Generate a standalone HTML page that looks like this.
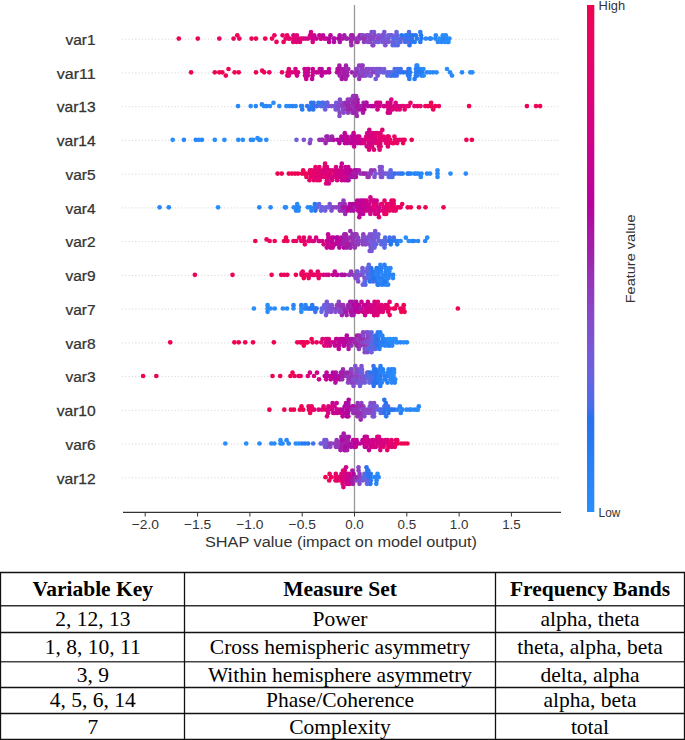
<!DOCTYPE html><html><head><meta charset="utf-8"><style>html,body{margin:0;padding:0;background:#fff;overflow:hidden}svg{display:block;}</style></head><body>
<svg width="685" height="740" viewBox="0 0 685 740">
<defs><linearGradient id="cb" x1="0" y1="0" x2="0" y2="1"><stop offset="0.000" stop-color="rgb(237, 3, 81)"/><stop offset="0.000" stop-color="rgb(237, 3, 81)"/><stop offset="0.030" stop-color="rgb(237, 3, 88)"/><stop offset="0.061" stop-color="rgb(235, 3, 95)"/><stop offset="0.091" stop-color="rgb(233, 3, 101)"/><stop offset="0.121" stop-color="rgb(229, 3, 108)"/><stop offset="0.152" stop-color="rgb(225, 3, 114)"/><stop offset="0.182" stop-color="rgb(221, 3, 120)"/><stop offset="0.212" stop-color="rgb(217, 3, 126)"/><stop offset="0.242" stop-color="rgb(212, 3, 132)"/><stop offset="0.273" stop-color="rgb(207, 3, 138)"/><stop offset="0.303" stop-color="rgb(201, 3, 144)"/><stop offset="0.333" stop-color="rgb(195, 3, 149)"/><stop offset="0.364" stop-color="rgb(189, 3, 154)"/><stop offset="0.394" stop-color="rgb(182, 3, 159)"/><stop offset="0.424" stop-color="rgb(174, 13, 163)"/><stop offset="0.455" stop-color="rgb(167, 26, 167)"/><stop offset="0.485" stop-color="rgb(159, 34, 171)"/><stop offset="0.515" stop-color="rgb(153, 44, 177)"/><stop offset="0.545" stop-color="rgb(149, 54, 185)"/><stop offset="0.576" stop-color="rgb(143, 63, 192)"/><stop offset="0.606" stop-color="rgb(137, 71, 199)"/><stop offset="0.636" stop-color="rgb(130, 79, 206)"/><stop offset="0.667" stop-color="rgb(123, 85, 212)"/><stop offset="0.697" stop-color="rgb(115, 92, 218)"/><stop offset="0.727" stop-color="rgb(105, 98, 223)"/><stop offset="0.758" stop-color="rgb(92, 103, 228)"/><stop offset="0.788" stop-color="rgb(76, 109, 233)"/><stop offset="0.818" stop-color="rgb(39, 114, 237)"/><stop offset="0.848" stop-color="rgb(40, 119, 240)"/><stop offset="0.879" stop-color="rgb(40, 124, 243)"/><stop offset="0.909" stop-color="rgb(41, 129, 246)"/><stop offset="0.939" stop-color="rgb(41, 133, 248)"/><stop offset="0.970" stop-color="rgb(41, 137, 250)"/><stop offset="1.000" stop-color="rgb(41, 142, 251)"/></linearGradient></defs>
<line x1="122" y1="39.2" x2="561" y2="39.2" stroke="#cccccc" stroke-width="0.8" stroke-dasharray="1.1,2.2"/>
<line x1="122" y1="72.9" x2="561" y2="72.9" stroke="#cccccc" stroke-width="0.8" stroke-dasharray="1.1,2.2"/>
<line x1="122" y1="106.7" x2="561" y2="106.7" stroke="#cccccc" stroke-width="0.8" stroke-dasharray="1.1,2.2"/>
<line x1="122" y1="140.4" x2="561" y2="140.4" stroke="#cccccc" stroke-width="0.8" stroke-dasharray="1.1,2.2"/>
<line x1="122" y1="174.2" x2="561" y2="174.2" stroke="#cccccc" stroke-width="0.8" stroke-dasharray="1.1,2.2"/>
<line x1="122" y1="207.9" x2="561" y2="207.9" stroke="#cccccc" stroke-width="0.8" stroke-dasharray="1.1,2.2"/>
<line x1="122" y1="241.6" x2="561" y2="241.6" stroke="#cccccc" stroke-width="0.8" stroke-dasharray="1.1,2.2"/>
<line x1="122" y1="275.4" x2="561" y2="275.4" stroke="#cccccc" stroke-width="0.8" stroke-dasharray="1.1,2.2"/>
<line x1="122" y1="309.1" x2="561" y2="309.1" stroke="#cccccc" stroke-width="0.8" stroke-dasharray="1.1,2.2"/>
<line x1="122" y1="342.9" x2="561" y2="342.9" stroke="#cccccc" stroke-width="0.8" stroke-dasharray="1.1,2.2"/>
<line x1="122" y1="376.6" x2="561" y2="376.6" stroke="#cccccc" stroke-width="0.8" stroke-dasharray="1.1,2.2"/>
<line x1="122" y1="410.3" x2="561" y2="410.3" stroke="#cccccc" stroke-width="0.8" stroke-dasharray="1.1,2.2"/>
<line x1="122" y1="444.1" x2="561" y2="444.1" stroke="#cccccc" stroke-width="0.8" stroke-dasharray="1.1,2.2"/>
<line x1="122" y1="477.8" x2="561" y2="477.8" stroke="#cccccc" stroke-width="0.8" stroke-dasharray="1.1,2.2"/>
<line x1="354.5" y1="5" x2="354.5" y2="512" stroke="#999" stroke-width="1.3"/>
<g>
<circle cx="435.3" cy="38.6" r="2.35" fill="rgb(41, 136, 249)"/>
<circle cx="353.6" cy="38.6" r="2.35" fill="rgb(155, 39, 173)"/>
<circle cx="237.3" cy="35.3" r="2.35" fill="rgb(237, 3, 82)"/>
<circle cx="370.5" cy="35.3" r="2.35" fill="rgb(135, 74, 201)"/>
<circle cx="288.6" cy="38.6" r="2.35" fill="rgb(230, 3, 106)"/>
<circle cx="382.2" cy="41.9" r="2.35" fill="rgb(121, 87, 214)"/>
<circle cx="400.6" cy="41.9" r="2.35" fill="rgb(95, 102, 227)"/>
<circle cx="384.3" cy="32.0" r="2.35" fill="rgb(122, 86, 213)"/>
<circle cx="356.6" cy="41.9" r="2.35" fill="rgb(149, 54, 185)"/>
<circle cx="368.5" cy="35.3" r="2.35" fill="rgb(134, 75, 202)"/>
<circle cx="357.6" cy="41.9" r="2.35" fill="rgb(160, 34, 171)"/>
<circle cx="360.0" cy="38.6" r="2.35" fill="rgb(147, 56, 186)"/>
<circle cx="326.1" cy="38.6" r="2.35" fill="rgb(195, 3, 150)"/>
<circle cx="373.2" cy="45.2" r="2.35" fill="rgb(135, 74, 201)"/>
<circle cx="314.2" cy="35.3" r="2.35" fill="rgb(203, 3, 142)"/>
<circle cx="350.8" cy="38.6" r="2.35" fill="rgb(152, 46, 178)"/>
<circle cx="405.2" cy="41.9" r="2.35" fill="rgb(69, 111, 234)"/>
<circle cx="339.7" cy="35.3" r="2.35" fill="rgb(173, 16, 164)"/>
<circle cx="388.5" cy="38.6" r="2.35" fill="rgb(117, 90, 216)"/>
<circle cx="374.9" cy="41.9" r="2.35" fill="rgb(121, 87, 214)"/>
<circle cx="319.4" cy="35.3" r="2.35" fill="rgb(195, 3, 149)"/>
<circle cx="356.9" cy="38.6" r="2.35" fill="rgb(150, 51, 182)"/>
<circle cx="334.3" cy="38.6" r="2.35" fill="rgb(189, 3, 154)"/>
<circle cx="405.6" cy="35.3" r="2.35" fill="rgb(40, 123, 243)"/>
<circle cx="409.5" cy="45.2" r="2.35" fill="rgb(47, 113, 236)"/>
<circle cx="381.3" cy="38.6" r="2.35" fill="rgb(118, 90, 216)"/>
<circle cx="393.0" cy="41.9" r="2.35" fill="rgb(108, 96, 221)"/>
<circle cx="411.4" cy="41.9" r="2.35" fill="rgb(40, 120, 240)"/>
<circle cx="338.3" cy="38.6" r="2.35" fill="rgb(175, 10, 163)"/>
<circle cx="421.0" cy="35.3" r="2.35" fill="rgb(39, 118, 239)"/>
<circle cx="397.7" cy="38.6" r="2.35" fill="rgb(98, 102, 227)"/>
<circle cx="396.5" cy="32.0" r="2.35" fill="rgb(102, 100, 225)"/>
<circle cx="373.0" cy="38.6" r="2.35" fill="rgb(135, 74, 201)"/>
<circle cx="303.2" cy="38.6" r="2.35" fill="rgb(212, 3, 132)"/>
<circle cx="429.9" cy="38.6" r="2.35" fill="rgb(41, 129, 246)"/>
<circle cx="357.6" cy="38.6" r="2.35" fill="rgb(150, 53, 184)"/>
<circle cx="366.4" cy="35.3" r="2.35" fill="rgb(135, 73, 200)"/>
<circle cx="415.8" cy="35.3" r="2.35" fill="rgb(40, 121, 241)"/>
<circle cx="344.3" cy="35.3" r="2.35" fill="rgb(163, 31, 170)"/>
<circle cx="372.7" cy="45.2" r="2.35" fill="rgb(138, 71, 199)"/>
<circle cx="351.2" cy="35.3" r="2.35" fill="rgb(155, 39, 173)"/>
<circle cx="384.1" cy="38.6" r="2.35" fill="rgb(113, 93, 219)"/>
<circle cx="447.3" cy="41.9" r="2.35" fill="rgb(41, 132, 247)"/>
<circle cx="444.1" cy="38.6" r="2.35" fill="rgb(41, 133, 248)"/>
<circle cx="312.7" cy="41.9" r="2.35" fill="rgb(213, 3, 130)"/>
<circle cx="293.2" cy="41.9" r="2.35" fill="rgb(227, 3, 112)"/>
<circle cx="330.5" cy="35.3" r="2.35" fill="rgb(182, 3, 159)"/>
<circle cx="384.0" cy="35.3" r="2.35" fill="rgb(115, 92, 218)"/>
<circle cx="328.9" cy="38.6" r="2.35" fill="rgb(183, 3, 158)"/>
<circle cx="352.4" cy="35.3" r="2.35" fill="rgb(161, 33, 170)"/>
<circle cx="283.6" cy="41.9" r="2.35" fill="rgb(235, 3, 96)"/>
<circle cx="276.5" cy="41.9" r="2.35" fill="rgb(235, 3, 98)"/>
<circle cx="417.0" cy="38.6" r="2.35" fill="rgb(40, 122, 242)"/>
<circle cx="233.6" cy="38.6" r="2.35" fill="rgb(235, 3, 95)"/>
<circle cx="412.0" cy="38.6" r="2.35" fill="rgb(39, 118, 239)"/>
<circle cx="320.8" cy="38.6" r="2.35" fill="rgb(189, 3, 154)"/>
<circle cx="333.5" cy="38.6" r="2.35" fill="rgb(170, 21, 166)"/>
<circle cx="437.9" cy="41.9" r="2.35" fill="rgb(41, 135, 248)"/>
<circle cx="386.5" cy="41.9" r="2.35" fill="rgb(114, 93, 219)"/>
<circle cx="378.6" cy="35.3" r="2.35" fill="rgb(112, 94, 220)"/>
<circle cx="351.1" cy="41.9" r="2.35" fill="rgb(161, 32, 170)"/>
<circle cx="359.8" cy="35.3" r="2.35" fill="rgb(159, 34, 171)"/>
<circle cx="293.5" cy="35.3" r="2.35" fill="rgb(218, 3, 125)"/>
<circle cx="408.2" cy="41.9" r="2.35" fill="rgb(89, 104, 229)"/>
<circle cx="435.8" cy="35.3" r="2.35" fill="rgb(41, 137, 250)"/>
<circle cx="334.0" cy="41.9" r="2.35" fill="rgb(174, 12, 163)"/>
<circle cx="272.0" cy="38.6" r="2.35" fill="rgb(237, 3, 89)"/>
<circle cx="393.3" cy="38.6" r="2.35" fill="rgb(84, 106, 231)"/>
<circle cx="265.2" cy="38.6" r="2.35" fill="rgb(237, 3, 81)"/>
<circle cx="447.1" cy="38.6" r="2.35" fill="rgb(41, 136, 249)"/>
<circle cx="239.3" cy="38.6" r="2.35" fill="rgb(237, 3, 90)"/>
<circle cx="390.5" cy="35.3" r="2.35" fill="rgb(106, 98, 223)"/>
<circle cx="378.4" cy="41.9" r="2.35" fill="rgb(113, 93, 219)"/>
<circle cx="351.4" cy="45.2" r="2.35" fill="rgb(154, 42, 176)"/>
<circle cx="382.2" cy="35.3" r="2.35" fill="rgb(128, 81, 208)"/>
<circle cx="282.6" cy="35.3" r="2.35" fill="rgb(230, 3, 105)"/>
<circle cx="444.9" cy="41.9" r="2.35" fill="rgb(41, 139, 250)"/>
<circle cx="449.4" cy="38.6" r="2.35" fill="rgb(41, 138, 250)"/>
<circle cx="385.3" cy="45.2" r="2.35" fill="rgb(125, 84, 211)"/>
<circle cx="385.1" cy="41.9" r="2.35" fill="rgb(127, 82, 209)"/>
<circle cx="316.5" cy="38.6" r="2.35" fill="rgb(200, 3, 144)"/>
<circle cx="395.2" cy="45.2" r="2.35" fill="rgb(90, 104, 229)"/>
<circle cx="394.0" cy="41.9" r="2.35" fill="rgb(107, 97, 222)"/>
<circle cx="397.7" cy="45.2" r="2.35" fill="rgb(88, 105, 230)"/>
<circle cx="404.2" cy="38.6" r="2.35" fill="rgb(60, 112, 235)"/>
<circle cx="301.3" cy="38.6" r="2.35" fill="rgb(223, 3, 118)"/>
<circle cx="362.6" cy="35.3" r="2.35" fill="rgb(153, 44, 177)"/>
<circle cx="311.0" cy="32.0" r="2.35" fill="rgb(210, 3, 134)"/>
<circle cx="365.3" cy="38.6" r="2.35" fill="rgb(141, 67, 195)"/>
<circle cx="324.2" cy="38.6" r="2.35" fill="rgb(195, 3, 150)"/>
<circle cx="362.1" cy="35.3" r="2.35" fill="rgb(134, 75, 202)"/>
<circle cx="407.0" cy="38.6" r="2.35" fill="rgb(51, 113, 236)"/>
<circle cx="377.5" cy="41.9" r="2.35" fill="rgb(118, 89, 215)"/>
<circle cx="400.9" cy="38.6" r="2.35" fill="rgb(113, 93, 219)"/>
<circle cx="178.8" cy="38.6" r="2.35" fill="rgb(237, 3, 81)"/>
<circle cx="339.8" cy="41.9" r="2.35" fill="rgb(172, 18, 165)"/>
<circle cx="285.7" cy="38.6" r="2.35" fill="rgb(231, 3, 103)"/>
<circle cx="219.3" cy="38.6" r="2.35" fill="rgb(233, 3, 101)"/>
<circle cx="380.1" cy="38.6" r="2.35" fill="rgb(129, 81, 208)"/>
<circle cx="289.8" cy="38.6" r="2.35" fill="rgb(233, 3, 101)"/>
<circle cx="367.9" cy="41.9" r="2.35" fill="rgb(134, 75, 202)"/>
<circle cx="339.6" cy="38.6" r="2.35" fill="rgb(176, 9, 162)"/>
<circle cx="308.0" cy="38.6" r="2.35" fill="rgb(215, 3, 128)"/>
<circle cx="401.7" cy="35.3" r="2.35" fill="rgb(39, 116, 238)"/>
<circle cx="298.8" cy="38.6" r="2.35" fill="rgb(223, 3, 117)"/>
<circle cx="421.5" cy="38.6" r="2.35" fill="rgb(40, 119, 240)"/>
<circle cx="413.0" cy="35.3" r="2.35" fill="rgb(39, 118, 239)"/>
<circle cx="397.4" cy="35.3" r="2.35" fill="rgb(93, 103, 228)"/>
<circle cx="391.8" cy="35.3" r="2.35" fill="rgb(114, 93, 219)"/>
<circle cx="374.0" cy="32.0" r="2.35" fill="rgb(120, 88, 215)"/>
<circle cx="364.0" cy="41.9" r="2.35" fill="rgb(144, 62, 191)"/>
<circle cx="363.7" cy="38.6" r="2.35" fill="rgb(150, 53, 184)"/>
<circle cx="371.7" cy="32.0" r="2.35" fill="rgb(126, 83, 210)"/>
<circle cx="420.3" cy="41.9" r="2.35" fill="rgb(40, 120, 241)"/>
<circle cx="410.5" cy="35.3" r="2.35" fill="rgb(40, 119, 240)"/>
<circle cx="293.8" cy="38.6" r="2.35" fill="rgb(214, 3, 129)"/>
<circle cx="403.7" cy="38.6" r="2.35" fill="rgb(70, 110, 234)"/>
<circle cx="392.7" cy="45.2" r="2.35" fill="rgb(92, 103, 228)"/>
<circle cx="197.8" cy="38.6" r="2.35" fill="rgb(237, 3, 81)"/>
<circle cx="442.8" cy="35.3" r="2.35" fill="rgb(41, 142, 251)"/>
<circle cx="287.1" cy="35.3" r="2.35" fill="rgb(234, 3, 98)"/>
<circle cx="256.0" cy="38.6" r="2.35" fill="rgb(236, 3, 91)"/>
<circle cx="370.4" cy="41.9" r="2.35" fill="rgb(138, 70, 198)"/>
<circle cx="445.8" cy="35.3" r="2.35" fill="rgb(41, 140, 250)"/>
<circle cx="296.5" cy="41.9" r="2.35" fill="rgb(220, 3, 121)"/>
<circle cx="442.7" cy="38.6" r="2.35" fill="rgb(41, 132, 247)"/>
<circle cx="369.3" cy="38.6" r="2.35" fill="rgb(138, 70, 198)"/>
<circle cx="312.2" cy="38.6" r="2.35" fill="rgb(206, 3, 139)"/>
<circle cx="425.9" cy="38.6" r="2.35" fill="rgb(41, 135, 248)"/>
<circle cx="395.9" cy="35.3" r="2.35" fill="rgb(111, 95, 220)"/>
<circle cx="329.1" cy="41.9" r="2.35" fill="rgb(190, 3, 153)"/>
<circle cx="347.4" cy="38.6" r="2.35" fill="rgb(158, 35, 171)"/>
<circle cx="441.3" cy="41.9" r="2.35" fill="rgb(41, 136, 249)"/>
<circle cx="448.5" cy="41.9" r="2.35" fill="rgb(41, 142, 251)"/>
<circle cx="414.7" cy="41.9" r="2.35" fill="rgb(40, 125, 244)"/>
<circle cx="310.1" cy="35.3" r="2.35" fill="rgb(206, 3, 139)"/>
<circle cx="296.8" cy="35.3" r="2.35" fill="rgb(223, 3, 118)"/>
<circle cx="342.5" cy="38.6" r="2.35" fill="rgb(170, 22, 166)"/>
<circle cx="430.9" cy="38.6" r="2.35" fill="rgb(41, 135, 248)"/>
<circle cx="295.2" cy="38.6" r="2.35" fill="rgb(225, 3, 114)"/>
<circle cx="310.9" cy="35.3" r="2.35" fill="rgb(213, 3, 131)"/>
<circle cx="251.6" cy="38.6" r="2.35" fill="rgb(237, 3, 85)"/>
<circle cx="377.3" cy="38.6" r="2.35" fill="rgb(134, 75, 202)"/>
<circle cx="398.2" cy="41.9" r="2.35" fill="rgb(88, 105, 230)"/>
<circle cx="346.1" cy="38.6" r="2.35" fill="rgb(162, 32, 170)"/>
<circle cx="372.6" cy="38.6" r="2.35" fill="rgb(136, 72, 200)"/>
<circle cx="420.3" cy="32.0" r="2.35" fill="rgb(40, 125, 244)"/>
<circle cx="387.1" cy="38.6" r="2.35" fill="rgb(121, 87, 214)"/>
<circle cx="407.7" cy="35.3" r="2.35" fill="rgb(40, 120, 241)"/>
<circle cx="320.9" cy="38.6" r="2.35" fill="rgb(205, 3, 140)"/>
<circle cx="323.0" cy="35.3" r="2.35" fill="rgb(188, 3, 154)"/>
<circle cx="388.3" cy="35.3" r="2.35" fill="rgb(110, 95, 220)"/>
<circle cx="439.4" cy="38.6" r="2.35" fill="rgb(41, 142, 251)"/>
<circle cx="300.0" cy="41.9" r="2.35" fill="rgb(221, 3, 120)"/>
<circle cx="388.8" cy="41.9" r="2.35" fill="rgb(122, 86, 213)"/>
<circle cx="374.6" cy="35.3" r="2.35" fill="rgb(137, 71, 199)"/>
<circle cx="409.5" cy="38.6" r="2.35" fill="rgb(63, 111, 234)"/>
<circle cx="394.6" cy="38.6" r="2.35" fill="rgb(78, 108, 232)"/>
<circle cx="305.5" cy="38.6" r="2.35" fill="rgb(210, 3, 134)"/>
<circle cx="313.9" cy="38.6" r="2.35" fill="rgb(204, 3, 141)"/>
<circle cx="274.4" cy="35.3" r="2.35" fill="rgb(235, 3, 94)"/>
<circle cx="409.0" cy="32.0" r="2.35" fill="rgb(74, 109, 233)"/>
<circle cx="392.1" cy="72.3" r="2.35" fill="rgb(101, 100, 225)"/>
<circle cx="375.3" cy="72.3" r="2.35" fill="rgb(127, 82, 209)"/>
<circle cx="356.2" cy="69.0" r="2.35" fill="rgb(147, 57, 187)"/>
<circle cx="341.8" cy="78.9" r="2.35" fill="rgb(174, 15, 164)"/>
<circle cx="362.0" cy="75.6" r="2.35" fill="rgb(136, 72, 200)"/>
<circle cx="346.0" cy="65.7" r="2.35" fill="rgb(163, 31, 170)"/>
<circle cx="450.0" cy="72.3" r="2.35" fill="rgb(41, 140, 250)"/>
<circle cx="287.3" cy="75.6" r="2.35" fill="rgb(227, 3, 111)"/>
<circle cx="356.4" cy="72.3" r="2.35" fill="rgb(145, 60, 190)"/>
<circle cx="307.9" cy="72.3" r="2.35" fill="rgb(213, 3, 130)"/>
<circle cx="447.0" cy="69.0" r="2.35" fill="rgb(41, 142, 251)"/>
<circle cx="359.1" cy="65.7" r="2.35" fill="rgb(145, 60, 190)"/>
<circle cx="219.3" cy="72.3" r="2.35" fill="rgb(237, 3, 83)"/>
<circle cx="408.5" cy="69.0" r="2.35" fill="rgb(39, 118, 239)"/>
<circle cx="433.0" cy="72.3" r="2.35" fill="rgb(41, 135, 248)"/>
<circle cx="354.9" cy="75.6" r="2.35" fill="rgb(150, 50, 181)"/>
<circle cx="321.5" cy="72.3" r="2.35" fill="rgb(195, 3, 149)"/>
<circle cx="390.3" cy="75.6" r="2.35" fill="rgb(83, 107, 231)"/>
<circle cx="214.8" cy="72.3" r="2.35" fill="rgb(237, 3, 85)"/>
<circle cx="316.1" cy="72.3" r="2.35" fill="rgb(187, 3, 155)"/>
<circle cx="288.8" cy="69.0" r="2.35" fill="rgb(224, 3, 115)"/>
<circle cx="373.7" cy="69.0" r="2.35" fill="rgb(120, 88, 214)"/>
<circle cx="290.0" cy="72.3" r="2.35" fill="rgb(218, 3, 125)"/>
<circle cx="307.4" cy="69.0" r="2.35" fill="rgb(203, 3, 142)"/>
<circle cx="351.9" cy="72.3" r="2.35" fill="rgb(159, 34, 171)"/>
<circle cx="294.9" cy="72.3" r="2.35" fill="rgb(219, 3, 123)"/>
<circle cx="417.2" cy="75.6" r="2.35" fill="rgb(40, 128, 245)"/>
<circle cx="421.5" cy="75.6" r="2.35" fill="rgb(40, 126, 244)"/>
<circle cx="416.5" cy="65.7" r="2.35" fill="rgb(41, 133, 248)"/>
<circle cx="418.1" cy="72.3" r="2.35" fill="rgb(41, 139, 250)"/>
<circle cx="295.5" cy="69.0" r="2.35" fill="rgb(214, 3, 129)"/>
<circle cx="470.3" cy="72.3" r="2.35" fill="rgb(41, 142, 251)"/>
<circle cx="452.0" cy="75.6" r="2.35" fill="rgb(41, 135, 248)"/>
<circle cx="342.1" cy="75.6" r="2.35" fill="rgb(180, 3, 160)"/>
<circle cx="391.7" cy="75.6" r="2.35" fill="rgb(80, 108, 232)"/>
<circle cx="256.0" cy="72.3" r="2.35" fill="rgb(237, 3, 81)"/>
<circle cx="329.0" cy="69.0" r="2.35" fill="rgb(191, 3, 152)"/>
<circle cx="377.7" cy="75.6" r="2.35" fill="rgb(130, 80, 207)"/>
<circle cx="361.4" cy="69.0" r="2.35" fill="rgb(143, 63, 192)"/>
<circle cx="406.1" cy="72.3" r="2.35" fill="rgb(87, 105, 230)"/>
<circle cx="409.5" cy="69.0" r="2.35" fill="rgb(40, 122, 242)"/>
<circle cx="306.6" cy="72.3" r="2.35" fill="rgb(201, 3, 144)"/>
<circle cx="348.3" cy="69.0" r="2.35" fill="rgb(156, 38, 172)"/>
<circle cx="357.2" cy="69.0" r="2.35" fill="rgb(138, 70, 198)"/>
<circle cx="363.8" cy="75.6" r="2.35" fill="rgb(142, 65, 193)"/>
<circle cx="403.4" cy="72.3" r="2.35" fill="rgb(39, 116, 238)"/>
<circle cx="378.7" cy="69.0" r="2.35" fill="rgb(125, 83, 210)"/>
<circle cx="339.4" cy="65.7" r="2.35" fill="rgb(171, 21, 166)"/>
<circle cx="395.7" cy="72.3" r="2.35" fill="rgb(65, 111, 234)"/>
<circle cx="364.2" cy="72.3" r="2.35" fill="rgb(146, 58, 188)"/>
<circle cx="269.3" cy="72.3" r="2.35" fill="rgb(235, 3, 98)"/>
<circle cx="370.8" cy="75.6" r="2.35" fill="rgb(138, 70, 198)"/>
<circle cx="339.7" cy="75.6" r="2.35" fill="rgb(155, 39, 173)"/>
<circle cx="222.3" cy="72.3" r="2.35" fill="rgb(237, 3, 83)"/>
<circle cx="398.3" cy="72.3" r="2.35" fill="rgb(51, 113, 236)"/>
<circle cx="262.2" cy="70.7" r="2.35" fill="rgb(237, 3, 90)"/>
<circle cx="430.0" cy="72.3" r="2.35" fill="rgb(41, 138, 250)"/>
<circle cx="423.4" cy="69.0" r="2.35" fill="rgb(41, 142, 251)"/>
<circle cx="305.2" cy="72.3" r="2.35" fill="rgb(199, 3, 145)"/>
<circle cx="396.8" cy="75.6" r="2.35" fill="rgb(84, 106, 231)"/>
<circle cx="264.2" cy="72.3" r="2.35" fill="rgb(237, 3, 87)"/>
<circle cx="288.8" cy="75.6" r="2.35" fill="rgb(218, 3, 125)"/>
<circle cx="387.3" cy="72.3" r="2.35" fill="rgb(82, 107, 231)"/>
<circle cx="420.2" cy="69.0" r="2.35" fill="rgb(41, 136, 249)"/>
<circle cx="297.0" cy="75.6" r="2.35" fill="rgb(213, 3, 130)"/>
<circle cx="191.1" cy="72.3" r="2.35" fill="rgb(237, 3, 87)"/>
<circle cx="394.7" cy="69.0" r="2.35" fill="rgb(77, 109, 233)"/>
<circle cx="366.8" cy="69.0" r="2.35" fill="rgb(141, 66, 194)"/>
<circle cx="326.3" cy="72.3" r="2.35" fill="rgb(190, 3, 153)"/>
<circle cx="312.8" cy="69.0" r="2.35" fill="rgb(202, 3, 143)"/>
<circle cx="362.7" cy="65.7" r="2.35" fill="rgb(134, 75, 202)"/>
<circle cx="345.7" cy="78.9" r="2.35" fill="rgb(160, 33, 171)"/>
<circle cx="414.6" cy="78.9" r="2.35" fill="rgb(40, 128, 245)"/>
<circle cx="408.1" cy="75.6" r="2.35" fill="rgb(40, 127, 245)"/>
<circle cx="313.2" cy="72.3" r="2.35" fill="rgb(203, 3, 142)"/>
<circle cx="234.6" cy="72.3" r="2.35" fill="rgb(237, 3, 87)"/>
<circle cx="306.2" cy="78.9" r="2.35" fill="rgb(202, 3, 143)"/>
<circle cx="319.7" cy="69.0" r="2.35" fill="rgb(200, 3, 145)"/>
<circle cx="409.0" cy="72.3" r="2.35" fill="rgb(39, 118, 239)"/>
<circle cx="318.2" cy="72.3" r="2.35" fill="rgb(198, 3, 146)"/>
<circle cx="324.6" cy="72.3" r="2.35" fill="rgb(194, 3, 151)"/>
<circle cx="380.7" cy="69.0" r="2.35" fill="rgb(125, 83, 210)"/>
<circle cx="346.0" cy="72.3" r="2.35" fill="rgb(152, 48, 179)"/>
<circle cx="225.8" cy="75.6" r="2.35" fill="rgb(237, 3, 89)"/>
<circle cx="357.6" cy="72.3" r="2.35" fill="rgb(150, 50, 181)"/>
<circle cx="312.1" cy="78.9" r="2.35" fill="rgb(195, 3, 150)"/>
<circle cx="282.0" cy="72.3" r="2.35" fill="rgb(235, 3, 98)"/>
<circle cx="287.7" cy="72.3" r="2.35" fill="rgb(227, 3, 111)"/>
<circle cx="329.2" cy="72.3" r="2.35" fill="rgb(190, 3, 153)"/>
<circle cx="422.4" cy="72.3" r="2.35" fill="rgb(40, 127, 245)"/>
<circle cx="415.9" cy="75.6" r="2.35" fill="rgb(40, 124, 243)"/>
<circle cx="344.4" cy="69.0" r="2.35" fill="rgb(160, 33, 171)"/>
<circle cx="343.5" cy="72.3" r="2.35" fill="rgb(170, 22, 166)"/>
<circle cx="312.9" cy="72.3" r="2.35" fill="rgb(201, 3, 144)"/>
<circle cx="382.8" cy="72.3" r="2.35" fill="rgb(115, 92, 218)"/>
<circle cx="295.7" cy="72.3" r="2.35" fill="rgb(222, 3, 119)"/>
<circle cx="359.4" cy="75.6" r="2.35" fill="rgb(146, 59, 189)"/>
<circle cx="427.0" cy="72.3" r="2.35" fill="rgb(41, 137, 250)"/>
<circle cx="361.8" cy="65.7" r="2.35" fill="rgb(148, 55, 186)"/>
<circle cx="397.6" cy="69.0" r="2.35" fill="rgb(74, 109, 233)"/>
<circle cx="347.3" cy="75.6" r="2.35" fill="rgb(161, 32, 170)"/>
<circle cx="375.7" cy="78.9" r="2.35" fill="rgb(114, 92, 218)"/>
<circle cx="384.4" cy="72.3" r="2.35" fill="rgb(114, 93, 219)"/>
<circle cx="360.3" cy="72.3" r="2.35" fill="rgb(136, 72, 200)"/>
<circle cx="321.7" cy="75.6" r="2.35" fill="rgb(183, 3, 159)"/>
<circle cx="387.4" cy="75.6" r="2.35" fill="rgb(85, 106, 231)"/>
<circle cx="420.3" cy="72.3" r="2.35" fill="rgb(40, 122, 242)"/>
<circle cx="339.4" cy="72.3" r="2.35" fill="rgb(167, 26, 167)"/>
<circle cx="341.7" cy="69.0" r="2.35" fill="rgb(167, 26, 167)"/>
<circle cx="228.5" cy="69.0" r="2.35" fill="rgb(237, 3, 81)"/>
<circle cx="365.9" cy="72.3" r="2.35" fill="rgb(136, 72, 200)"/>
<circle cx="344.9" cy="75.6" r="2.35" fill="rgb(165, 29, 169)"/>
<circle cx="400.5" cy="72.3" r="2.35" fill="rgb(40, 119, 240)"/>
<circle cx="347.1" cy="72.3" r="2.35" fill="rgb(158, 35, 171)"/>
<circle cx="376.0" cy="72.3" r="2.35" fill="rgb(123, 85, 212)"/>
<circle cx="362.7" cy="69.0" r="2.35" fill="rgb(143, 63, 192)"/>
<circle cx="400.7" cy="69.0" r="2.35" fill="rgb(67, 111, 234)"/>
<circle cx="308.5" cy="69.0" r="2.35" fill="rgb(194, 3, 150)"/>
<circle cx="417.3" cy="65.7" r="2.35" fill="rgb(41, 137, 250)"/>
<circle cx="409.3" cy="78.9" r="2.35" fill="rgb(40, 127, 245)"/>
<circle cx="416.1" cy="72.3" r="2.35" fill="rgb(40, 125, 244)"/>
<circle cx="417.2" cy="69.0" r="2.35" fill="rgb(40, 127, 245)"/>
<circle cx="367.9" cy="72.3" r="2.35" fill="rgb(138, 71, 199)"/>
<circle cx="321.6" cy="69.0" r="2.35" fill="rgb(174, 12, 163)"/>
<circle cx="394.2" cy="75.6" r="2.35" fill="rgb(39, 118, 239)"/>
<circle cx="365.9" cy="75.6" r="2.35" fill="rgb(133, 76, 204)"/>
<circle cx="415.9" cy="69.0" r="2.35" fill="rgb(41, 130, 247)"/>
<circle cx="410.2" cy="72.3" r="2.35" fill="rgb(40, 126, 244)"/>
<circle cx="291.8" cy="72.3" r="2.35" fill="rgb(221, 3, 120)"/>
<circle cx="304.6" cy="69.0" r="2.35" fill="rgb(205, 3, 140)"/>
<circle cx="379.6" cy="72.3" r="2.35" fill="rgb(111, 95, 220)"/>
<circle cx="409.5" cy="75.6" r="2.35" fill="rgb(40, 126, 244)"/>
<circle cx="312.5" cy="75.6" r="2.35" fill="rgb(199, 3, 145)"/>
<circle cx="368.3" cy="69.0" r="2.35" fill="rgb(135, 74, 201)"/>
<circle cx="339.2" cy="69.0" r="2.35" fill="rgb(167, 25, 167)"/>
<circle cx="372.5" cy="72.3" r="2.35" fill="rgb(144, 61, 191)"/>
<circle cx="376.3" cy="69.0" r="2.35" fill="rgb(124, 84, 211)"/>
<circle cx="384.1" cy="69.0" r="2.35" fill="rgb(116, 92, 218)"/>
<circle cx="389.7" cy="72.3" r="2.35" fill="rgb(92, 103, 228)"/>
<circle cx="307.8" cy="75.6" r="2.35" fill="rgb(200, 3, 144)"/>
<circle cx="337.0" cy="72.3" r="2.35" fill="rgb(174, 13, 163)"/>
<circle cx="370.9" cy="69.0" r="2.35" fill="rgb(136, 73, 201)"/>
<circle cx="472.3" cy="72.3" r="2.35" fill="rgb(41, 142, 251)"/>
<circle cx="238.7" cy="72.3" r="2.35" fill="rgb(237, 3, 85)"/>
<circle cx="298.0" cy="72.3" r="2.35" fill="rgb(213, 3, 130)"/>
<circle cx="423.7" cy="75.6" r="2.35" fill="rgb(41, 141, 251)"/>
<circle cx="305.6" cy="75.6" r="2.35" fill="rgb(185, 3, 156)"/>
<circle cx="337.6" cy="69.0" r="2.35" fill="rgb(187, 3, 155)"/>
<circle cx="462.0" cy="72.3" r="2.35" fill="rgb(41, 137, 250)"/>
<circle cx="436.5" cy="72.3" r="2.35" fill="rgb(41, 138, 250)"/>
<circle cx="369.8" cy="75.6" r="2.35" fill="rgb(121, 87, 214)"/>
<circle cx="305.1" cy="75.6" r="2.35" fill="rgb(198, 3, 146)"/>
<circle cx="359.2" cy="78.9" r="2.35" fill="rgb(150, 51, 182)"/>
<circle cx="364.3" cy="109.4" r="2.35" fill="rgb(184, 3, 157)"/>
<circle cx="327.3" cy="102.8" r="2.35" fill="rgb(107, 96, 221)"/>
<circle cx="425.3" cy="106.1" r="2.35" fill="rgb(237, 3, 90)"/>
<circle cx="354.5" cy="96.2" r="2.35" fill="rgb(152, 45, 178)"/>
<circle cx="370.8" cy="106.1" r="2.35" fill="rgb(177, 8, 162)"/>
<circle cx="384.8" cy="106.1" r="2.35" fill="rgb(210, 3, 134)"/>
<circle cx="339.7" cy="112.7" r="2.35" fill="rgb(137, 71, 199)"/>
<circle cx="301.1" cy="106.1" r="2.35" fill="rgb(41, 130, 247)"/>
<circle cx="355.7" cy="109.4" r="2.35" fill="rgb(156, 38, 172)"/>
<circle cx="339.5" cy="116.0" r="2.35" fill="rgb(131, 78, 205)"/>
<circle cx="339.9" cy="99.5" r="2.35" fill="rgb(133, 76, 204)"/>
<circle cx="357.6" cy="99.5" r="2.35" fill="rgb(160, 33, 171)"/>
<circle cx="526.9" cy="106.1" r="2.35" fill="rgb(235, 3, 96)"/>
<circle cx="342.8" cy="109.4" r="2.35" fill="rgb(143, 63, 192)"/>
<circle cx="323.2" cy="102.8" r="2.35" fill="rgb(67, 111, 234)"/>
<circle cx="335.7" cy="109.4" r="2.35" fill="rgb(124, 85, 212)"/>
<circle cx="387.7" cy="102.8" r="2.35" fill="rgb(208, 3, 137)"/>
<circle cx="378.1" cy="106.1" r="2.35" fill="rgb(200, 3, 144)"/>
<circle cx="334.1" cy="106.1" r="2.35" fill="rgb(109, 96, 221)"/>
<circle cx="261.9" cy="104.4" r="2.35" fill="rgb(41, 134, 248)"/>
<circle cx="327.1" cy="102.8" r="2.35" fill="rgb(113, 93, 219)"/>
<circle cx="331.5" cy="106.1" r="2.35" fill="rgb(124, 85, 212)"/>
<circle cx="357.6" cy="102.8" r="2.35" fill="rgb(174, 14, 163)"/>
<circle cx="352.7" cy="109.4" r="2.35" fill="rgb(150, 51, 182)"/>
<circle cx="318.5" cy="102.8" r="2.35" fill="rgb(40, 125, 244)"/>
<circle cx="396.9" cy="106.1" r="2.35" fill="rgb(219, 3, 123)"/>
<circle cx="317.0" cy="106.1" r="2.35" fill="rgb(90, 104, 229)"/>
<circle cx="341.8" cy="102.8" r="2.35" fill="rgb(144, 62, 191)"/>
<circle cx="289.5" cy="106.1" r="2.35" fill="rgb(41, 139, 250)"/>
<circle cx="270.0" cy="106.1" r="2.35" fill="rgb(41, 139, 250)"/>
<circle cx="417.5" cy="106.1" r="2.35" fill="rgb(234, 3, 99)"/>
<circle cx="352.4" cy="112.7" r="2.35" fill="rgb(144, 62, 191)"/>
<circle cx="357.7" cy="109.4" r="2.35" fill="rgb(159, 34, 171)"/>
<circle cx="279.3" cy="106.1" r="2.35" fill="rgb(41, 140, 250)"/>
<circle cx="342.9" cy="106.1" r="2.35" fill="rgb(148, 55, 186)"/>
<circle cx="338.1" cy="109.4" r="2.35" fill="rgb(126, 83, 210)"/>
<circle cx="410.5" cy="102.8" r="2.35" fill="rgb(234, 3, 98)"/>
<circle cx="347.3" cy="102.8" r="2.35" fill="rgb(146, 59, 189)"/>
<circle cx="420.5" cy="106.1" r="2.35" fill="rgb(229, 3, 109)"/>
<circle cx="345.4" cy="102.8" r="2.35" fill="rgb(154, 42, 176)"/>
<circle cx="389.9" cy="112.7" r="2.35" fill="rgb(206, 3, 139)"/>
<circle cx="363.0" cy="106.1" r="2.35" fill="rgb(180, 3, 160)"/>
<circle cx="292.6" cy="106.1" r="2.35" fill="rgb(41, 129, 246)"/>
<circle cx="403.6" cy="106.1" r="2.35" fill="rgb(222, 3, 119)"/>
<circle cx="398.1" cy="106.1" r="2.35" fill="rgb(213, 3, 131)"/>
<circle cx="391.3" cy="99.5" r="2.35" fill="rgb(218, 3, 125)"/>
<circle cx="336.6" cy="106.1" r="2.35" fill="rgb(128, 81, 208)"/>
<circle cx="356.1" cy="96.2" r="2.35" fill="rgb(153, 44, 177)"/>
<circle cx="321.9" cy="102.8" r="2.35" fill="rgb(69, 111, 234)"/>
<circle cx="390.5" cy="102.8" r="2.35" fill="rgb(209, 3, 135)"/>
<circle cx="355.2" cy="106.1" r="2.35" fill="rgb(166, 28, 168)"/>
<circle cx="286.4" cy="106.1" r="2.35" fill="rgb(41, 138, 250)"/>
<circle cx="379.7" cy="106.1" r="2.35" fill="rgb(205, 3, 140)"/>
<circle cx="328.3" cy="106.1" r="2.35" fill="rgb(124, 84, 211)"/>
<circle cx="431.1" cy="102.8" r="2.35" fill="rgb(237, 3, 81)"/>
<circle cx="469.1" cy="106.1" r="2.35" fill="rgb(237, 3, 81)"/>
<circle cx="348.8" cy="106.1" r="2.35" fill="rgb(154, 43, 176)"/>
<circle cx="356.3" cy="112.7" r="2.35" fill="rgb(152, 48, 179)"/>
<circle cx="350.3" cy="99.5" r="2.35" fill="rgb(155, 39, 173)"/>
<circle cx="360.1" cy="109.4" r="2.35" fill="rgb(173, 17, 165)"/>
<circle cx="354.4" cy="99.5" r="2.35" fill="rgb(156, 39, 173)"/>
<circle cx="363.0" cy="112.7" r="2.35" fill="rgb(169, 24, 166)"/>
<circle cx="366.1" cy="102.8" r="2.35" fill="rgb(171, 20, 166)"/>
<circle cx="336.2" cy="102.8" r="2.35" fill="rgb(118, 89, 215)"/>
<circle cx="322.3" cy="106.1" r="2.35" fill="rgb(90, 104, 229)"/>
<circle cx="388.4" cy="109.4" r="2.35" fill="rgb(204, 3, 141)"/>
<circle cx="348.0" cy="112.7" r="2.35" fill="rgb(142, 64, 193)"/>
<circle cx="302.0" cy="106.1" r="2.35" fill="rgb(41, 131, 247)"/>
<circle cx="396.7" cy="109.4" r="2.35" fill="rgb(220, 3, 121)"/>
<circle cx="339.8" cy="102.8" r="2.35" fill="rgb(132, 77, 205)"/>
<circle cx="399.7" cy="109.4" r="2.35" fill="rgb(220, 3, 122)"/>
<circle cx="341.7" cy="106.1" r="2.35" fill="rgb(145, 60, 190)"/>
<circle cx="351.5" cy="106.1" r="2.35" fill="rgb(150, 51, 182)"/>
<circle cx="401.3" cy="106.1" r="2.35" fill="rgb(224, 3, 115)"/>
<circle cx="324.9" cy="106.1" r="2.35" fill="rgb(85, 106, 231)"/>
<circle cx="363.3" cy="109.4" r="2.35" fill="rgb(179, 3, 160)"/>
<circle cx="347.9" cy="99.5" r="2.35" fill="rgb(147, 56, 186)"/>
<circle cx="338.4" cy="106.1" r="2.35" fill="rgb(133, 76, 204)"/>
<circle cx="320.9" cy="106.1" r="2.35" fill="rgb(77, 109, 233)"/>
<circle cx="366.4" cy="102.8" r="2.35" fill="rgb(175, 12, 163)"/>
<circle cx="295.6" cy="106.1" r="2.35" fill="rgb(41, 136, 249)"/>
<circle cx="351.9" cy="99.5" r="2.35" fill="rgb(150, 51, 182)"/>
<circle cx="255.8" cy="106.1" r="2.35" fill="rgb(41, 135, 248)"/>
<circle cx="325.2" cy="109.4" r="2.35" fill="rgb(110, 95, 220)"/>
<circle cx="372.6" cy="106.1" r="2.35" fill="rgb(184, 3, 157)"/>
<circle cx="435.3" cy="106.1" r="2.35" fill="rgb(237, 3, 83)"/>
<circle cx="343.4" cy="109.4" r="2.35" fill="rgb(137, 71, 199)"/>
<circle cx="390.4" cy="106.1" r="2.35" fill="rgb(213, 3, 130)"/>
<circle cx="355.3" cy="102.8" r="2.35" fill="rgb(155, 39, 173)"/>
<circle cx="367.9" cy="106.1" r="2.35" fill="rgb(174, 13, 163)"/>
<circle cx="391.1" cy="109.4" r="2.35" fill="rgb(217, 3, 126)"/>
<circle cx="302.2" cy="109.4" r="2.35" fill="rgb(40, 126, 244)"/>
<circle cx="356.9" cy="116.0" r="2.35" fill="rgb(155, 41, 175)"/>
<circle cx="363.6" cy="102.8" r="2.35" fill="rgb(164, 30, 169)"/>
<circle cx="313.2" cy="109.4" r="2.35" fill="rgb(40, 119, 240)"/>
<circle cx="378.2" cy="102.8" r="2.35" fill="rgb(192, 3, 151)"/>
<circle cx="394.2" cy="106.1" r="2.35" fill="rgb(213, 3, 131)"/>
<circle cx="430.8" cy="106.1" r="2.35" fill="rgb(237, 3, 83)"/>
<circle cx="346.8" cy="109.4" r="2.35" fill="rgb(152, 47, 178)"/>
<circle cx="408.8" cy="106.1" r="2.35" fill="rgb(227, 3, 112)"/>
<circle cx="266.6" cy="106.1" r="2.35" fill="rgb(41, 133, 248)"/>
<circle cx="380.1" cy="102.8" r="2.35" fill="rgb(209, 3, 136)"/>
<circle cx="343.6" cy="112.7" r="2.35" fill="rgb(137, 71, 199)"/>
<circle cx="273.5" cy="102.8" r="2.35" fill="rgb(41, 142, 251)"/>
<circle cx="377.5" cy="109.4" r="2.35" fill="rgb(204, 3, 142)"/>
<circle cx="311.2" cy="102.8" r="2.35" fill="rgb(39, 115, 238)"/>
<circle cx="347.2" cy="106.1" r="2.35" fill="rgb(158, 36, 172)"/>
<circle cx="404.7" cy="109.4" r="2.35" fill="rgb(230, 3, 105)"/>
<circle cx="352.5" cy="102.8" r="2.35" fill="rgb(158, 36, 172)"/>
<circle cx="392.7" cy="109.4" r="2.35" fill="rgb(221, 3, 120)"/>
<circle cx="387.8" cy="112.7" r="2.35" fill="rgb(204, 3, 141)"/>
<circle cx="363.8" cy="106.1" r="2.35" fill="rgb(179, 3, 160)"/>
<circle cx="414.4" cy="106.1" r="2.35" fill="rgb(230, 3, 106)"/>
<circle cx="350.1" cy="109.4" r="2.35" fill="rgb(158, 35, 171)"/>
<circle cx="540.1" cy="106.1" r="2.35" fill="rgb(237, 3, 81)"/>
<circle cx="250.7" cy="106.1" r="2.35" fill="rgb(41, 142, 251)"/>
<circle cx="348.5" cy="102.8" r="2.35" fill="rgb(154, 42, 176)"/>
<circle cx="311.3" cy="106.1" r="2.35" fill="rgb(40, 122, 242)"/>
<circle cx="264.0" cy="106.1" r="2.35" fill="rgb(41, 136, 249)"/>
<circle cx="313.9" cy="106.1" r="2.35" fill="rgb(39, 118, 239)"/>
<circle cx="374.1" cy="106.1" r="2.35" fill="rgb(195, 3, 149)"/>
<circle cx="313.6" cy="102.8" r="2.35" fill="rgb(60, 112, 235)"/>
<circle cx="316.4" cy="106.1" r="2.35" fill="rgb(67, 111, 234)"/>
<circle cx="353.1" cy="96.2" r="2.35" fill="rgb(150, 51, 182)"/>
<circle cx="376.4" cy="102.8" r="2.35" fill="rgb(205, 3, 140)"/>
<circle cx="407.1" cy="106.1" r="2.35" fill="rgb(229, 3, 109)"/>
<circle cx="433.2" cy="109.4" r="2.35" fill="rgb(237, 3, 88)"/>
<circle cx="358.0" cy="106.1" r="2.35" fill="rgb(171, 20, 165)"/>
<circle cx="395.6" cy="102.8" r="2.35" fill="rgb(213, 3, 130)"/>
<circle cx="387.3" cy="106.1" r="2.35" fill="rgb(218, 3, 124)"/>
<circle cx="431.5" cy="106.1" r="2.35" fill="rgb(237, 3, 86)"/>
<circle cx="309.4" cy="109.4" r="2.35" fill="rgb(39, 118, 239)"/>
<circle cx="383.6" cy="106.1" r="2.35" fill="rgb(208, 3, 137)"/>
<circle cx="536.0" cy="106.1" r="2.35" fill="rgb(237, 3, 88)"/>
<circle cx="438.9" cy="106.1" r="2.35" fill="rgb(235, 3, 95)"/>
<circle cx="353.7" cy="112.7" r="2.35" fill="rgb(157, 37, 172)"/>
<circle cx="307.2" cy="106.1" r="2.35" fill="rgb(40, 121, 241)"/>
<circle cx="238.0" cy="106.1" r="2.35" fill="rgb(41, 135, 248)"/>
<circle cx="428.1" cy="106.1" r="2.35" fill="rgb(237, 3, 87)"/>
<circle cx="360.6" cy="106.1" r="2.35" fill="rgb(163, 31, 170)"/>
<circle cx="328.7" cy="139.8" r="2.35" fill="rgb(171, 19, 165)"/>
<circle cx="387.3" cy="136.5" r="2.35" fill="rgb(228, 3, 110)"/>
<circle cx="224.4" cy="139.8" r="2.35" fill="rgb(41, 142, 251)"/>
<circle cx="386.0" cy="143.1" r="2.35" fill="rgb(229, 3, 109)"/>
<circle cx="378.9" cy="146.4" r="2.35" fill="rgb(223, 3, 118)"/>
<circle cx="372.2" cy="136.5" r="2.35" fill="rgb(218, 3, 124)"/>
<circle cx="383.4" cy="136.5" r="2.35" fill="rgb(231, 3, 103)"/>
<circle cx="372.9" cy="139.8" r="2.35" fill="rgb(230, 3, 105)"/>
<circle cx="341.4" cy="136.5" r="2.35" fill="rgb(178, 6, 162)"/>
<circle cx="362.2" cy="143.1" r="2.35" fill="rgb(209, 3, 136)"/>
<circle cx="404.6" cy="139.8" r="2.35" fill="rgb(237, 3, 88)"/>
<circle cx="379.6" cy="149.7" r="2.35" fill="rgb(221, 3, 120)"/>
<circle cx="380.6" cy="146.4" r="2.35" fill="rgb(227, 3, 112)"/>
<circle cx="366.8" cy="146.4" r="2.35" fill="rgb(208, 3, 137)"/>
<circle cx="372.1" cy="143.1" r="2.35" fill="rgb(217, 3, 126)"/>
<circle cx="373.0" cy="133.2" r="2.35" fill="rgb(224, 3, 116)"/>
<circle cx="387.9" cy="146.4" r="2.35" fill="rgb(223, 3, 118)"/>
<circle cx="388.0" cy="139.8" r="2.35" fill="rgb(231, 3, 104)"/>
<circle cx="411.7" cy="139.8" r="2.35" fill="rgb(237, 3, 81)"/>
<circle cx="198.8" cy="139.8" r="2.35" fill="rgb(41, 142, 251)"/>
<circle cx="377.5" cy="133.2" r="2.35" fill="rgb(225, 3, 114)"/>
<circle cx="353.6" cy="133.2" r="2.35" fill="rgb(198, 3, 146)"/>
<circle cx="370.9" cy="146.4" r="2.35" fill="rgb(214, 3, 129)"/>
<circle cx="250.9" cy="139.8" r="2.35" fill="rgb(41, 137, 250)"/>
<circle cx="348.6" cy="139.8" r="2.35" fill="rgb(183, 3, 158)"/>
<circle cx="388.7" cy="136.5" r="2.35" fill="rgb(233, 3, 101)"/>
<circle cx="344.9" cy="143.1" r="2.35" fill="rgb(187, 3, 155)"/>
<circle cx="351.4" cy="136.5" r="2.35" fill="rgb(188, 3, 154)"/>
<circle cx="375.5" cy="136.5" r="2.35" fill="rgb(220, 3, 121)"/>
<circle cx="353.4" cy="143.1" r="2.35" fill="rgb(194, 3, 150)"/>
<circle cx="358.0" cy="139.8" r="2.35" fill="rgb(206, 3, 139)"/>
<circle cx="371.8" cy="143.1" r="2.35" fill="rgb(210, 3, 134)"/>
<circle cx="352.3" cy="139.8" r="2.35" fill="rgb(194, 3, 150)"/>
<circle cx="378.0" cy="143.1" r="2.35" fill="rgb(221, 3, 120)"/>
<circle cx="364.6" cy="139.8" r="2.35" fill="rgb(217, 3, 126)"/>
<circle cx="380.3" cy="139.8" r="2.35" fill="rgb(221, 3, 120)"/>
<circle cx="296.5" cy="139.8" r="2.35" fill="rgb(109, 96, 221)"/>
<circle cx="266.3" cy="139.8" r="2.35" fill="rgb(41, 142, 251)"/>
<circle cx="375.9" cy="143.1" r="2.35" fill="rgb(223, 3, 118)"/>
<circle cx="362.1" cy="139.8" r="2.35" fill="rgb(206, 3, 139)"/>
<circle cx="259.1" cy="139.8" r="2.35" fill="rgb(41, 140, 250)"/>
<circle cx="360.2" cy="143.1" r="2.35" fill="rgb(200, 3, 144)"/>
<circle cx="332.0" cy="136.5" r="2.35" fill="rgb(156, 38, 172)"/>
<circle cx="395.2" cy="139.8" r="2.35" fill="rgb(229, 3, 107)"/>
<circle cx="201.9" cy="139.8" r="2.35" fill="rgb(41, 136, 249)"/>
<circle cx="325.6" cy="143.1" r="2.35" fill="rgb(158, 36, 172)"/>
<circle cx="310.5" cy="139.8" r="2.35" fill="rgb(128, 81, 208)"/>
<circle cx="333.8" cy="139.8" r="2.35" fill="rgb(180, 3, 160)"/>
<circle cx="339.4" cy="143.1" r="2.35" fill="rgb(179, 5, 161)"/>
<circle cx="369.6" cy="136.5" r="2.35" fill="rgb(211, 3, 133)"/>
<circle cx="367.3" cy="133.2" r="2.35" fill="rgb(206, 3, 139)"/>
<circle cx="371.7" cy="139.8" r="2.35" fill="rgb(222, 3, 119)"/>
<circle cx="195.8" cy="139.8" r="2.35" fill="rgb(41, 134, 248)"/>
<circle cx="368.8" cy="143.1" r="2.35" fill="rgb(209, 3, 135)"/>
<circle cx="371.0" cy="133.2" r="2.35" fill="rgb(218, 3, 125)"/>
<circle cx="309.8" cy="143.1" r="2.35" fill="rgb(139, 69, 197)"/>
<circle cx="322.7" cy="139.8" r="2.35" fill="rgb(166, 28, 168)"/>
<circle cx="327.8" cy="136.5" r="2.35" fill="rgb(149, 54, 185)"/>
<circle cx="326.4" cy="136.5" r="2.35" fill="rgb(159, 34, 171)"/>
<circle cx="372.1" cy="146.4" r="2.35" fill="rgb(220, 3, 121)"/>
<circle cx="242.8" cy="139.8" r="2.35" fill="rgb(41, 142, 251)"/>
<circle cx="321.7" cy="139.8" r="2.35" fill="rgb(152, 47, 179)"/>
<circle cx="379.6" cy="136.5" r="2.35" fill="rgb(225, 3, 114)"/>
<circle cx="357.7" cy="136.5" r="2.35" fill="rgb(205, 3, 140)"/>
<circle cx="214.8" cy="139.8" r="2.35" fill="rgb(41, 142, 251)"/>
<circle cx="340.2" cy="139.8" r="2.35" fill="rgb(187, 3, 155)"/>
<circle cx="396.4" cy="139.8" r="2.35" fill="rgb(234, 3, 99)"/>
<circle cx="347.6" cy="139.8" r="2.35" fill="rgb(195, 3, 149)"/>
<circle cx="354.1" cy="146.4" r="2.35" fill="rgb(197, 3, 147)"/>
<circle cx="238.3" cy="139.8" r="2.35" fill="rgb(41, 142, 251)"/>
<circle cx="386.2" cy="139.8" r="2.35" fill="rgb(224, 3, 116)"/>
<circle cx="183.9" cy="139.8" r="2.35" fill="rgb(41, 135, 248)"/>
<circle cx="303.8" cy="139.8" r="2.35" fill="rgb(127, 82, 209)"/>
<circle cx="390.3" cy="139.8" r="2.35" fill="rgb(235, 3, 98)"/>
<circle cx="359.2" cy="136.5" r="2.35" fill="rgb(199, 3, 145)"/>
<circle cx="403.1" cy="143.1" r="2.35" fill="rgb(237, 3, 90)"/>
<circle cx="364.4" cy="143.1" r="2.35" fill="rgb(217, 3, 126)"/>
<circle cx="402.6" cy="139.8" r="2.35" fill="rgb(237, 3, 83)"/>
<circle cx="257.5" cy="138.2" r="2.35" fill="rgb(41, 142, 251)"/>
<circle cx="380.5" cy="133.2" r="2.35" fill="rgb(225, 3, 114)"/>
<circle cx="367.8" cy="139.8" r="2.35" fill="rgb(213, 3, 130)"/>
<circle cx="357.7" cy="143.1" r="2.35" fill="rgb(200, 3, 145)"/>
<circle cx="397.2" cy="143.1" r="2.35" fill="rgb(233, 3, 100)"/>
<circle cx="374.0" cy="149.7" r="2.35" fill="rgb(224, 3, 115)"/>
<circle cx="392.4" cy="143.1" r="2.35" fill="rgb(235, 3, 97)"/>
<circle cx="394.4" cy="136.5" r="2.35" fill="rgb(234, 3, 99)"/>
<circle cx="350.9" cy="143.1" r="2.35" fill="rgb(183, 3, 157)"/>
<circle cx="331.3" cy="139.8" r="2.35" fill="rgb(166, 28, 168)"/>
<circle cx="260.5" cy="139.8" r="2.35" fill="rgb(41, 142, 251)"/>
<circle cx="378.4" cy="139.8" r="2.35" fill="rgb(227, 3, 111)"/>
<circle cx="354.9" cy="136.5" r="2.35" fill="rgb(195, 3, 149)"/>
<circle cx="393.8" cy="143.1" r="2.35" fill="rgb(236, 3, 91)"/>
<circle cx="344.8" cy="133.2" r="2.35" fill="rgb(190, 3, 153)"/>
<circle cx="327.2" cy="139.8" r="2.35" fill="rgb(155, 39, 174)"/>
<circle cx="399.8" cy="139.8" r="2.35" fill="rgb(229, 3, 109)"/>
<circle cx="356.1" cy="139.8" r="2.35" fill="rgb(191, 3, 152)"/>
<circle cx="369.3" cy="129.9" r="2.35" fill="rgb(207, 3, 138)"/>
<circle cx="346.9" cy="136.5" r="2.35" fill="rgb(190, 3, 153)"/>
<circle cx="253.0" cy="139.8" r="2.35" fill="rgb(41, 140, 250)"/>
<circle cx="344.9" cy="136.5" r="2.35" fill="rgb(197, 3, 147)"/>
<circle cx="471.9" cy="139.8" r="2.35" fill="rgb(237, 3, 82)"/>
<circle cx="172.7" cy="139.8" r="2.35" fill="rgb(41, 142, 251)"/>
<circle cx="344.3" cy="139.8" r="2.35" fill="rgb(203, 3, 142)"/>
<circle cx="360.1" cy="139.8" r="2.35" fill="rgb(206, 3, 139)"/>
<circle cx="382.3" cy="129.9" r="2.35" fill="rgb(225, 3, 114)"/>
<circle cx="389.0" cy="143.1" r="2.35" fill="rgb(230, 3, 106)"/>
<circle cx="342.5" cy="139.8" r="2.35" fill="rgb(177, 7, 162)"/>
<circle cx="466.4" cy="139.8" r="2.35" fill="rgb(237, 3, 81)"/>
<circle cx="368.7" cy="136.5" r="2.35" fill="rgb(215, 3, 128)"/>
<circle cx="366.2" cy="136.5" r="2.35" fill="rgb(218, 3, 124)"/>
<circle cx="369.1" cy="149.7" r="2.35" fill="rgb(219, 3, 123)"/>
<circle cx="379.9" cy="136.5" r="2.35" fill="rgb(229, 3, 109)"/>
<circle cx="319.4" cy="139.8" r="2.35" fill="rgb(152, 46, 178)"/>
<circle cx="383.3" cy="139.8" r="2.35" fill="rgb(226, 3, 113)"/>
<circle cx="354.6" cy="143.1" r="2.35" fill="rgb(195, 3, 150)"/>
<circle cx="347.4" cy="143.1" r="2.35" fill="rgb(191, 3, 152)"/>
<circle cx="375.5" cy="139.8" r="2.35" fill="rgb(215, 3, 128)"/>
<circle cx="375.9" cy="133.2" r="2.35" fill="rgb(221, 3, 121)"/>
<circle cx="337.7" cy="139.8" r="2.35" fill="rgb(179, 5, 161)"/>
<circle cx="380.3" cy="143.1" r="2.35" fill="rgb(228, 3, 110)"/>
<circle cx="420.8" cy="176.9" r="2.35" fill="rgb(41, 139, 250)"/>
<circle cx="309.7" cy="173.6" r="2.35" fill="rgb(234, 3, 100)"/>
<circle cx="356.5" cy="170.3" r="2.35" fill="rgb(176, 9, 162)"/>
<circle cx="362.8" cy="173.6" r="2.35" fill="rgb(154, 41, 175)"/>
<circle cx="310.8" cy="176.9" r="2.35" fill="rgb(229, 3, 109)"/>
<circle cx="337.1" cy="180.2" r="2.35" fill="rgb(218, 3, 125)"/>
<circle cx="392.8" cy="173.6" r="2.35" fill="rgb(89, 105, 230)"/>
<circle cx="349.1" cy="170.3" r="2.35" fill="rgb(187, 3, 155)"/>
<circle cx="342.7" cy="173.6" r="2.35" fill="rgb(214, 3, 129)"/>
<circle cx="348.3" cy="173.6" r="2.35" fill="rgb(191, 3, 152)"/>
<circle cx="380.3" cy="170.3" r="2.35" fill="rgb(127, 82, 209)"/>
<circle cx="379.8" cy="167.0" r="2.35" fill="rgb(130, 79, 206)"/>
<circle cx="344.5" cy="180.2" r="2.35" fill="rgb(197, 3, 147)"/>
<circle cx="437.5" cy="173.6" r="2.35" fill="rgb(41, 137, 250)"/>
<circle cx="437.5" cy="176.9" r="2.35" fill="rgb(41, 137, 250)"/>
<circle cx="389.6" cy="173.6" r="2.35" fill="rgb(91, 104, 229)"/>
<circle cx="338.3" cy="176.9" r="2.35" fill="rgb(209, 3, 136)"/>
<circle cx="341.7" cy="180.2" r="2.35" fill="rgb(206, 3, 139)"/>
<circle cx="374.3" cy="170.3" r="2.35" fill="rgb(143, 63, 192)"/>
<circle cx="281.7" cy="173.6" r="2.35" fill="rgb(237, 3, 81)"/>
<circle cx="335.1" cy="176.9" r="2.35" fill="rgb(218, 3, 124)"/>
<circle cx="327.6" cy="173.6" r="2.35" fill="rgb(222, 3, 119)"/>
<circle cx="315.5" cy="167.0" r="2.35" fill="rgb(231, 3, 104)"/>
<circle cx="314.8" cy="176.9" r="2.35" fill="rgb(228, 3, 110)"/>
<circle cx="347.1" cy="176.9" r="2.35" fill="rgb(191, 3, 152)"/>
<circle cx="332.4" cy="170.3" r="2.35" fill="rgb(221, 3, 120)"/>
<circle cx="327.0" cy="167.0" r="2.35" fill="rgb(212, 3, 132)"/>
<circle cx="367.6" cy="176.9" r="2.35" fill="rgb(152, 46, 178)"/>
<circle cx="304.3" cy="173.6" r="2.35" fill="rgb(237, 3, 81)"/>
<circle cx="360.3" cy="173.6" r="2.35" fill="rgb(150, 51, 182)"/>
<circle cx="355.8" cy="176.9" r="2.35" fill="rgb(179, 4, 161)"/>
<circle cx="341.8" cy="163.7" r="2.35" fill="rgb(194, 3, 150)"/>
<circle cx="329.7" cy="170.3" r="2.35" fill="rgb(220, 3, 121)"/>
<circle cx="334.8" cy="173.6" r="2.35" fill="rgb(222, 3, 119)"/>
<circle cx="318.0" cy="170.3" r="2.35" fill="rgb(233, 3, 101)"/>
<circle cx="344.6" cy="170.3" r="2.35" fill="rgb(194, 3, 151)"/>
<circle cx="341.3" cy="176.9" r="2.35" fill="rgb(197, 3, 147)"/>
<circle cx="326.1" cy="183.5" r="2.35" fill="rgb(215, 3, 128)"/>
<circle cx="277.6" cy="173.6" r="2.35" fill="rgb(237, 3, 81)"/>
<circle cx="329.0" cy="176.9" r="2.35" fill="rgb(218, 3, 125)"/>
<circle cx="368.7" cy="176.9" r="2.35" fill="rgb(149, 52, 183)"/>
<circle cx="326.9" cy="180.2" r="2.35" fill="rgb(222, 3, 119)"/>
<circle cx="354.7" cy="170.3" r="2.35" fill="rgb(173, 17, 165)"/>
<circle cx="381.8" cy="167.0" r="2.35" fill="rgb(127, 82, 209)"/>
<circle cx="427.0" cy="173.6" r="2.35" fill="rgb(41, 137, 250)"/>
<circle cx="291.9" cy="173.6" r="2.35" fill="rgb(236, 3, 91)"/>
<circle cx="319.7" cy="180.2" r="2.35" fill="rgb(231, 3, 103)"/>
<circle cx="380.9" cy="176.9" r="2.35" fill="rgb(101, 100, 225)"/>
<circle cx="319.3" cy="167.0" r="2.35" fill="rgb(230, 3, 104)"/>
<circle cx="313.9" cy="180.2" r="2.35" fill="rgb(228, 3, 111)"/>
<circle cx="309.5" cy="180.2" r="2.35" fill="rgb(231, 3, 103)"/>
<circle cx="351.9" cy="176.9" r="2.35" fill="rgb(174, 13, 163)"/>
<circle cx="317.7" cy="173.6" r="2.35" fill="rgb(226, 3, 113)"/>
<circle cx="321.0" cy="173.6" r="2.35" fill="rgb(225, 3, 115)"/>
<circle cx="421.5" cy="173.6" r="2.35" fill="rgb(41, 139, 250)"/>
<circle cx="322.5" cy="170.3" r="2.35" fill="rgb(219, 3, 123)"/>
<circle cx="295.0" cy="173.6" r="2.35" fill="rgb(237, 3, 81)"/>
<circle cx="334.2" cy="176.9" r="2.35" fill="rgb(212, 3, 132)"/>
<circle cx="326.8" cy="173.6" r="2.35" fill="rgb(226, 3, 113)"/>
<circle cx="380.1" cy="173.6" r="2.35" fill="rgb(127, 82, 209)"/>
<circle cx="310.0" cy="170.3" r="2.35" fill="rgb(229, 3, 107)"/>
<circle cx="383.4" cy="173.6" r="2.35" fill="rgb(122, 85, 212)"/>
<circle cx="306.4" cy="176.9" r="2.35" fill="rgb(236, 3, 92)"/>
<circle cx="345.5" cy="173.6" r="2.35" fill="rgb(191, 3, 152)"/>
<circle cx="314.6" cy="170.3" r="2.35" fill="rgb(229, 3, 109)"/>
<circle cx="324.6" cy="167.0" r="2.35" fill="rgb(228, 3, 110)"/>
<circle cx="323.8" cy="173.6" r="2.35" fill="rgb(219, 3, 123)"/>
<circle cx="312.9" cy="176.9" r="2.35" fill="rgb(227, 3, 111)"/>
<circle cx="465.8" cy="173.6" r="2.35" fill="rgb(41, 140, 250)"/>
<circle cx="371.2" cy="173.6" r="2.35" fill="rgb(138, 69, 197)"/>
<circle cx="347.0" cy="180.2" r="2.35" fill="rgb(176, 10, 162)"/>
<circle cx="400.7" cy="173.6" r="2.35" fill="rgb(41, 128, 246)"/>
<circle cx="356.2" cy="173.6" r="2.35" fill="rgb(170, 22, 166)"/>
<circle cx="350.7" cy="170.3" r="2.35" fill="rgb(187, 3, 155)"/>
<circle cx="346.8" cy="170.3" r="2.35" fill="rgb(197, 3, 147)"/>
<circle cx="348.3" cy="167.0" r="2.35" fill="rgb(191, 3, 152)"/>
<circle cx="348.5" cy="180.2" r="2.35" fill="rgb(180, 3, 160)"/>
<circle cx="336.0" cy="167.0" r="2.35" fill="rgb(216, 3, 127)"/>
<circle cx="351.6" cy="173.6" r="2.35" fill="rgb(187, 3, 155)"/>
<circle cx="395.1" cy="173.6" r="2.35" fill="rgb(39, 115, 237)"/>
<circle cx="298.0" cy="173.6" r="2.35" fill="rgb(237, 3, 81)"/>
<circle cx="437.5" cy="170.3" r="2.35" fill="rgb(41, 140, 250)"/>
<circle cx="390.8" cy="176.9" r="2.35" fill="rgb(95, 102, 227)"/>
<circle cx="366.1" cy="173.6" r="2.35" fill="rgb(154, 43, 176)"/>
<circle cx="328.8" cy="183.5" r="2.35" fill="rgb(212, 3, 132)"/>
<circle cx="418.2" cy="173.6" r="2.35" fill="rgb(41, 130, 247)"/>
<circle cx="332.0" cy="176.9" r="2.35" fill="rgb(213, 3, 131)"/>
<circle cx="320.9" cy="176.9" r="2.35" fill="rgb(225, 3, 115)"/>
<circle cx="368.7" cy="173.6" r="2.35" fill="rgb(147, 57, 187)"/>
<circle cx="381.7" cy="170.3" r="2.35" fill="rgb(127, 82, 209)"/>
<circle cx="407.6" cy="173.6" r="2.35" fill="rgb(40, 127, 245)"/>
<circle cx="337.7" cy="173.6" r="2.35" fill="rgb(210, 3, 134)"/>
<circle cx="317.4" cy="180.2" r="2.35" fill="rgb(233, 3, 101)"/>
<circle cx="414.3" cy="173.6" r="2.35" fill="rgb(41, 132, 247)"/>
<circle cx="341.2" cy="167.0" r="2.35" fill="rgb(202, 3, 143)"/>
<circle cx="375.7" cy="173.6" r="2.35" fill="rgb(116, 91, 217)"/>
<circle cx="450.5" cy="173.6" r="2.35" fill="rgb(41, 141, 251)"/>
<circle cx="326.8" cy="176.9" r="2.35" fill="rgb(220, 3, 122)"/>
<circle cx="337.0" cy="173.6" r="2.35" fill="rgb(207, 3, 138)"/>
<circle cx="410.8" cy="173.6" r="2.35" fill="rgb(41, 135, 248)"/>
<circle cx="303.2" cy="170.3" r="2.35" fill="rgb(237, 3, 87)"/>
<circle cx="364.1" cy="173.6" r="2.35" fill="rgb(161, 33, 170)"/>
<circle cx="325.1" cy="163.7" r="2.35" fill="rgb(229, 3, 107)"/>
<circle cx="330.6" cy="173.6" r="2.35" fill="rgb(223, 3, 118)"/>
<circle cx="416.0" cy="173.6" r="2.35" fill="rgb(41, 137, 250)"/>
<circle cx="311.8" cy="173.6" r="2.35" fill="rgb(232, 3, 102)"/>
<circle cx="353.6" cy="173.6" r="2.35" fill="rgb(163, 31, 170)"/>
<circle cx="371.2" cy="170.3" r="2.35" fill="rgb(149, 52, 183)"/>
<circle cx="345.4" cy="167.0" r="2.35" fill="rgb(199, 3, 145)"/>
<circle cx="319.5" cy="170.3" r="2.35" fill="rgb(223, 3, 117)"/>
<circle cx="332.0" cy="180.2" r="2.35" fill="rgb(216, 3, 127)"/>
<circle cx="354.0" cy="176.9" r="2.35" fill="rgb(170, 21, 166)"/>
<circle cx="340.3" cy="173.6" r="2.35" fill="rgb(203, 3, 142)"/>
<circle cx="288.8" cy="173.6" r="2.35" fill="rgb(237, 3, 81)"/>
<circle cx="344.6" cy="176.9" r="2.35" fill="rgb(215, 3, 128)"/>
<circle cx="327.7" cy="180.2" r="2.35" fill="rgb(223, 3, 117)"/>
<circle cx="385.4" cy="173.6" r="2.35" fill="rgb(122, 86, 213)"/>
<circle cx="311.8" cy="170.3" r="2.35" fill="rgb(231, 3, 103)"/>
<circle cx="402.7" cy="173.6" r="2.35" fill="rgb(40, 125, 244)"/>
<circle cx="337.7" cy="170.3" r="2.35" fill="rgb(220, 3, 121)"/>
<circle cx="335.6" cy="170.3" r="2.35" fill="rgb(211, 3, 133)"/>
<circle cx="358.9" cy="170.3" r="2.35" fill="rgb(165, 29, 169)"/>
<circle cx="302.0" cy="173.6" r="2.35" fill="rgb(237, 3, 88)"/>
<circle cx="430.0" cy="173.6" r="2.35" fill="rgb(41, 136, 249)"/>
<circle cx="392.4" cy="176.9" r="2.35" fill="rgb(85, 106, 231)"/>
<circle cx="328.2" cy="170.3" r="2.35" fill="rgb(222, 3, 119)"/>
<circle cx="374.5" cy="176.9" r="2.35" fill="rgb(132, 78, 205)"/>
<circle cx="387.3" cy="173.6" r="2.35" fill="rgb(106, 98, 223)"/>
<circle cx="398.3" cy="173.6" r="2.35" fill="rgb(73, 110, 233)"/>
<circle cx="318.2" cy="176.9" r="2.35" fill="rgb(223, 3, 118)"/>
<circle cx="340.9" cy="170.3" r="2.35" fill="rgb(201, 3, 144)"/>
<circle cx="306.5" cy="173.6" r="2.35" fill="rgb(237, 3, 89)"/>
<circle cx="382.1" cy="176.9" r="2.35" fill="rgb(126, 83, 210)"/>
<circle cx="408.7" cy="173.6" r="2.35" fill="rgb(40, 125, 244)"/>
<circle cx="349.3" cy="176.9" r="2.35" fill="rgb(171, 21, 166)"/>
<circle cx="314.1" cy="173.6" r="2.35" fill="rgb(230, 3, 106)"/>
<circle cx="388.8" cy="176.9" r="2.35" fill="rgb(84, 106, 231)"/>
<circle cx="325.0" cy="170.3" r="2.35" fill="rgb(216, 3, 127)"/>
<circle cx="390.6" cy="170.3" r="2.35" fill="rgb(99, 101, 226)"/>
<circle cx="323.6" cy="176.9" r="2.35" fill="rgb(228, 3, 110)"/>
<circle cx="370.4" cy="197.4" r="2.35" fill="rgb(210, 3, 134)"/>
<circle cx="410.8" cy="207.3" r="2.35" fill="rgb(237, 3, 86)"/>
<circle cx="395.7" cy="210.6" r="2.35" fill="rgb(233, 3, 100)"/>
<circle cx="331.5" cy="210.6" r="2.35" fill="rgb(129, 81, 208)"/>
<circle cx="371.9" cy="210.6" r="2.35" fill="rgb(212, 3, 132)"/>
<circle cx="357.1" cy="204.0" r="2.35" fill="rgb(204, 3, 141)"/>
<circle cx="353.5" cy="210.6" r="2.35" fill="rgb(178, 6, 162)"/>
<circle cx="343.5" cy="200.7" r="2.35" fill="rgb(145, 60, 190)"/>
<circle cx="297.2" cy="204.0" r="2.35" fill="rgb(41, 140, 250)"/>
<circle cx="374.5" cy="207.3" r="2.35" fill="rgb(206, 3, 139)"/>
<circle cx="329.7" cy="204.0" r="2.35" fill="rgb(122, 85, 212)"/>
<circle cx="379.9" cy="210.6" r="2.35" fill="rgb(220, 3, 122)"/>
<circle cx="378.3" cy="210.6" r="2.35" fill="rgb(213, 3, 130)"/>
<circle cx="341.9" cy="204.0" r="2.35" fill="rgb(149, 54, 185)"/>
<circle cx="377.9" cy="213.9" r="2.35" fill="rgb(209, 3, 136)"/>
<circle cx="351.1" cy="207.3" r="2.35" fill="rgb(178, 4, 160)"/>
<circle cx="373.2" cy="200.7" r="2.35" fill="rgb(209, 3, 136)"/>
<circle cx="368.1" cy="207.3" r="2.35" fill="rgb(211, 3, 133)"/>
<circle cx="322.4" cy="207.3" r="2.35" fill="rgb(115, 92, 218)"/>
<circle cx="344.7" cy="204.0" r="2.35" fill="rgb(153, 44, 177)"/>
<circle cx="334.0" cy="207.3" r="2.35" fill="rgb(134, 75, 202)"/>
<circle cx="362.4" cy="200.7" r="2.35" fill="rgb(196, 3, 148)"/>
<circle cx="363.2" cy="207.3" r="2.35" fill="rgb(202, 3, 143)"/>
<circle cx="358.0" cy="210.6" r="2.35" fill="rgb(177, 7, 162)"/>
<circle cx="321.1" cy="210.6" r="2.35" fill="rgb(98, 101, 226)"/>
<circle cx="331.9" cy="207.3" r="2.35" fill="rgb(144, 62, 192)"/>
<circle cx="364.6" cy="204.0" r="2.35" fill="rgb(199, 3, 145)"/>
<circle cx="315.3" cy="210.6" r="2.35" fill="rgb(47, 113, 236)"/>
<circle cx="407.7" cy="207.3" r="2.35" fill="rgb(237, 3, 82)"/>
<circle cx="345.2" cy="213.9" r="2.35" fill="rgb(153, 45, 177)"/>
<circle cx="285.0" cy="207.3" r="2.35" fill="rgb(41, 134, 248)"/>
<circle cx="339.8" cy="210.6" r="2.35" fill="rgb(149, 53, 184)"/>
<circle cx="370.4" cy="210.6" r="2.35" fill="rgb(209, 3, 135)"/>
<circle cx="387.7" cy="207.3" r="2.35" fill="rgb(230, 3, 105)"/>
<circle cx="376.7" cy="204.0" r="2.35" fill="rgb(220, 3, 122)"/>
<circle cx="307.8" cy="207.3" r="2.35" fill="rgb(41, 142, 251)"/>
<circle cx="391.6" cy="207.3" r="2.35" fill="rgb(233, 3, 100)"/>
<circle cx="285.9" cy="207.3" r="2.35" fill="rgb(41, 140, 250)"/>
<circle cx="374.2" cy="200.7" r="2.35" fill="rgb(214, 3, 129)"/>
<circle cx="393.8" cy="204.0" r="2.35" fill="rgb(231, 3, 104)"/>
<circle cx="364.2" cy="200.7" r="2.35" fill="rgb(194, 3, 150)"/>
<circle cx="359.1" cy="210.6" r="2.35" fill="rgb(196, 3, 148)"/>
<circle cx="389.0" cy="204.0" r="2.35" fill="rgb(229, 3, 108)"/>
<circle cx="369.4" cy="207.3" r="2.35" fill="rgb(206, 3, 139)"/>
<circle cx="298.5" cy="210.6" r="2.35" fill="rgb(41, 139, 250)"/>
<circle cx="371.1" cy="200.7" r="2.35" fill="rgb(210, 3, 134)"/>
<circle cx="402.2" cy="204.0" r="2.35" fill="rgb(237, 3, 86)"/>
<circle cx="393.2" cy="210.6" r="2.35" fill="rgb(224, 3, 116)"/>
<circle cx="339.0" cy="207.3" r="2.35" fill="rgb(141, 65, 194)"/>
<circle cx="376.6" cy="207.3" r="2.35" fill="rgb(215, 3, 128)"/>
<circle cx="359.3" cy="217.2" r="2.35" fill="rgb(195, 3, 149)"/>
<circle cx="366.7" cy="200.7" r="2.35" fill="rgb(210, 3, 134)"/>
<circle cx="374.5" cy="210.6" r="2.35" fill="rgb(209, 3, 135)"/>
<circle cx="372.8" cy="207.3" r="2.35" fill="rgb(221, 3, 120)"/>
<circle cx="375.2" cy="213.9" r="2.35" fill="rgb(215, 3, 128)"/>
<circle cx="391.5" cy="200.7" r="2.35" fill="rgb(233, 3, 100)"/>
<circle cx="368.9" cy="204.0" r="2.35" fill="rgb(204, 3, 141)"/>
<circle cx="340.3" cy="207.3" r="2.35" fill="rgb(146, 59, 189)"/>
<circle cx="387.1" cy="210.6" r="2.35" fill="rgb(232, 3, 102)"/>
<circle cx="311.5" cy="210.6" r="2.35" fill="rgb(41, 133, 248)"/>
<circle cx="370.4" cy="213.9" r="2.35" fill="rgb(209, 3, 136)"/>
<circle cx="168.8" cy="207.3" r="2.35" fill="rgb(41, 136, 249)"/>
<circle cx="419.0" cy="207.3" r="2.35" fill="rgb(237, 3, 81)"/>
<circle cx="400.6" cy="207.3" r="2.35" fill="rgb(235, 3, 97)"/>
<circle cx="425.5" cy="207.3" r="2.35" fill="rgb(237, 3, 82)"/>
<circle cx="394.1" cy="207.3" r="2.35" fill="rgb(234, 3, 99)"/>
<circle cx="365.9" cy="210.6" r="2.35" fill="rgb(212, 3, 132)"/>
<circle cx="296.5" cy="207.3" r="2.35" fill="rgb(40, 127, 245)"/>
<circle cx="345.6" cy="207.3" r="2.35" fill="rgb(161, 32, 170)"/>
<circle cx="357.2" cy="200.7" r="2.35" fill="rgb(191, 3, 152)"/>
<circle cx="384.6" cy="210.6" r="2.35" fill="rgb(228, 3, 110)"/>
<circle cx="389.7" cy="210.6" r="2.35" fill="rgb(234, 3, 99)"/>
<circle cx="381.2" cy="204.0" r="2.35" fill="rgb(220, 3, 122)"/>
<circle cx="373.5" cy="204.0" r="2.35" fill="rgb(217, 3, 126)"/>
<circle cx="365.6" cy="207.3" r="2.35" fill="rgb(197, 3, 147)"/>
<circle cx="354.5" cy="207.3" r="2.35" fill="rgb(164, 29, 169)"/>
<circle cx="345.0" cy="210.6" r="2.35" fill="rgb(152, 48, 179)"/>
<circle cx="326.1" cy="207.3" r="2.35" fill="rgb(120, 88, 214)"/>
<circle cx="384.4" cy="213.9" r="2.35" fill="rgb(228, 3, 111)"/>
<circle cx="379.4" cy="207.3" r="2.35" fill="rgb(209, 3, 136)"/>
<circle cx="328.4" cy="207.3" r="2.35" fill="rgb(108, 96, 221)"/>
<circle cx="342.3" cy="210.6" r="2.35" fill="rgb(152, 45, 178)"/>
<circle cx="399.0" cy="207.3" r="2.35" fill="rgb(227, 3, 111)"/>
<circle cx="386.0" cy="207.3" r="2.35" fill="rgb(229, 3, 109)"/>
<circle cx="375.1" cy="204.0" r="2.35" fill="rgb(220, 3, 122)"/>
<circle cx="376.7" cy="200.7" r="2.35" fill="rgb(201, 3, 144)"/>
<circle cx="296.0" cy="210.6" r="2.35" fill="rgb(41, 134, 248)"/>
<circle cx="314.9" cy="204.0" r="2.35" fill="rgb(39, 118, 239)"/>
<circle cx="382.0" cy="204.0" r="2.35" fill="rgb(228, 3, 111)"/>
<circle cx="270.6" cy="207.3" r="2.35" fill="rgb(41, 136, 249)"/>
<circle cx="368.4" cy="210.6" r="2.35" fill="rgb(205, 3, 140)"/>
<circle cx="349.8" cy="204.0" r="2.35" fill="rgb(177, 8, 162)"/>
<circle cx="360.1" cy="204.0" r="2.35" fill="rgb(198, 3, 146)"/>
<circle cx="259.3" cy="207.3" r="2.35" fill="rgb(41, 137, 250)"/>
<circle cx="325.2" cy="210.6" r="2.35" fill="rgb(116, 91, 217)"/>
<circle cx="363.1" cy="213.9" r="2.35" fill="rgb(189, 3, 154)"/>
<circle cx="361.4" cy="204.0" r="2.35" fill="rgb(198, 3, 146)"/>
<circle cx="359.9" cy="213.9" r="2.35" fill="rgb(192, 3, 151)"/>
<circle cx="317.5" cy="207.3" r="2.35" fill="rgb(106, 97, 222)"/>
<circle cx="393.7" cy="200.7" r="2.35" fill="rgb(234, 3, 99)"/>
<circle cx="360.2" cy="200.7" r="2.35" fill="rgb(192, 3, 151)"/>
<circle cx="350.7" cy="210.6" r="2.35" fill="rgb(173, 16, 164)"/>
<circle cx="357.7" cy="207.3" r="2.35" fill="rgb(194, 3, 150)"/>
<circle cx="368.1" cy="204.0" r="2.35" fill="rgb(204, 3, 140)"/>
<circle cx="218.1" cy="207.3" r="2.35" fill="rgb(41, 142, 251)"/>
<circle cx="386.7" cy="204.0" r="2.35" fill="rgb(233, 3, 101)"/>
<circle cx="386.2" cy="213.9" r="2.35" fill="rgb(233, 3, 101)"/>
<circle cx="362.2" cy="210.6" r="2.35" fill="rgb(194, 3, 151)"/>
<circle cx="397.3" cy="207.3" r="2.35" fill="rgb(234, 3, 99)"/>
<circle cx="384.5" cy="200.7" r="2.35" fill="rgb(229, 3, 108)"/>
<circle cx="383.9" cy="207.3" r="2.35" fill="rgb(221, 3, 121)"/>
<circle cx="347.5" cy="210.6" r="2.35" fill="rgb(189, 3, 154)"/>
<circle cx="336.5" cy="207.3" r="2.35" fill="rgb(141, 66, 194)"/>
<circle cx="159.6" cy="207.3" r="2.35" fill="rgb(41, 137, 250)"/>
<circle cx="314.4" cy="207.3" r="2.35" fill="rgb(40, 126, 244)"/>
<circle cx="298.8" cy="207.3" r="2.35" fill="rgb(41, 137, 250)"/>
<circle cx="379.0" cy="217.2" r="2.35" fill="rgb(224, 3, 116)"/>
<circle cx="321.5" cy="207.3" r="2.35" fill="rgb(107, 97, 222)"/>
<circle cx="382.8" cy="210.6" r="2.35" fill="rgb(221, 3, 121)"/>
<circle cx="343.2" cy="207.3" r="2.35" fill="rgb(173, 16, 164)"/>
<circle cx="319.1" cy="204.0" r="2.35" fill="rgb(101, 100, 225)"/>
<circle cx="443.5" cy="207.3" r="2.35" fill="rgb(237, 3, 81)"/>
<circle cx="390.4" cy="204.0" r="2.35" fill="rgb(229, 3, 109)"/>
<circle cx="310.5" cy="207.3" r="2.35" fill="rgb(41, 133, 248)"/>
<circle cx="348.4" cy="207.3" r="2.35" fill="rgb(181, 3, 159)"/>
<circle cx="293.8" cy="207.3" r="2.35" fill="rgb(41, 140, 250)"/>
<circle cx="339.9" cy="204.0" r="2.35" fill="rgb(149, 54, 185)"/>
<circle cx="360.6" cy="207.3" r="2.35" fill="rgb(189, 3, 154)"/>
<circle cx="355.8" cy="204.0" r="2.35" fill="rgb(195, 3, 150)"/>
<circle cx="352.6" cy="204.0" r="2.35" fill="rgb(180, 3, 160)"/>
<circle cx="372.9" cy="241.0" r="2.35" fill="rgb(124, 84, 211)"/>
<circle cx="367.6" cy="237.7" r="2.35" fill="rgb(139, 69, 197)"/>
<circle cx="353.5" cy="244.3" r="2.35" fill="rgb(152, 46, 178)"/>
<circle cx="309.2" cy="241.0" r="2.35" fill="rgb(226, 3, 113)"/>
<circle cx="370.9" cy="247.6" r="2.35" fill="rgb(123, 85, 212)"/>
<circle cx="353.4" cy="237.7" r="2.35" fill="rgb(155, 41, 175)"/>
<circle cx="301.3" cy="241.0" r="2.35" fill="rgb(230, 3, 106)"/>
<circle cx="379.1" cy="241.0" r="2.35" fill="rgb(112, 94, 220)"/>
<circle cx="341.2" cy="237.7" r="2.35" fill="rgb(174, 14, 164)"/>
<circle cx="375.0" cy="244.3" r="2.35" fill="rgb(127, 82, 209)"/>
<circle cx="338.6" cy="241.0" r="2.35" fill="rgb(173, 16, 164)"/>
<circle cx="326.8" cy="247.6" r="2.35" fill="rgb(203, 3, 142)"/>
<circle cx="375.7" cy="234.4" r="2.35" fill="rgb(118, 89, 215)"/>
<circle cx="365.6" cy="244.3" r="2.35" fill="rgb(137, 71, 199)"/>
<circle cx="385.0" cy="244.3" r="2.35" fill="rgb(98, 102, 227)"/>
<circle cx="378.7" cy="241.0" r="2.35" fill="rgb(111, 95, 220)"/>
<circle cx="336.8" cy="241.0" r="2.35" fill="rgb(190, 3, 153)"/>
<circle cx="326.7" cy="241.0" r="2.35" fill="rgb(213, 3, 131)"/>
<circle cx="355.3" cy="234.4" r="2.35" fill="rgb(153, 45, 177)"/>
<circle cx="333.3" cy="237.7" r="2.35" fill="rgb(184, 3, 157)"/>
<circle cx="405.8" cy="237.7" r="2.35" fill="rgb(41, 141, 250)"/>
<circle cx="303.9" cy="241.0" r="2.35" fill="rgb(231, 3, 103)"/>
<circle cx="374.3" cy="241.0" r="2.35" fill="rgb(116, 91, 217)"/>
<circle cx="373.3" cy="244.3" r="2.35" fill="rgb(124, 84, 211)"/>
<circle cx="328.4" cy="237.7" r="2.35" fill="rgb(199, 3, 145)"/>
<circle cx="343.9" cy="247.6" r="2.35" fill="rgb(178, 6, 162)"/>
<circle cx="352.4" cy="241.0" r="2.35" fill="rgb(160, 34, 171)"/>
<circle cx="269.6" cy="241.0" r="2.35" fill="rgb(236, 3, 92)"/>
<circle cx="397.2" cy="244.3" r="2.35" fill="rgb(40, 126, 244)"/>
<circle cx="378.4" cy="234.4" r="2.35" fill="rgb(104, 98, 223)"/>
<circle cx="309.7" cy="237.7" r="2.35" fill="rgb(220, 3, 121)"/>
<circle cx="357.2" cy="241.0" r="2.35" fill="rgb(149, 52, 183)"/>
<circle cx="427.2" cy="237.7" r="2.35" fill="rgb(41, 139, 250)"/>
<circle cx="303.9" cy="237.7" r="2.35" fill="rgb(231, 3, 104)"/>
<circle cx="340.8" cy="241.0" r="2.35" fill="rgb(191, 3, 152)"/>
<circle cx="286.0" cy="237.7" r="2.35" fill="rgb(237, 3, 81)"/>
<circle cx="389.7" cy="237.7" r="2.35" fill="rgb(71, 110, 234)"/>
<circle cx="372.5" cy="234.4" r="2.35" fill="rgb(120, 88, 214)"/>
<circle cx="347.1" cy="237.7" r="2.35" fill="rgb(154, 43, 176)"/>
<circle cx="372.6" cy="237.7" r="2.35" fill="rgb(133, 77, 205)"/>
<circle cx="338.9" cy="244.3" r="2.35" fill="rgb(176, 9, 162)"/>
<circle cx="374.5" cy="237.7" r="2.35" fill="rgb(119, 89, 215)"/>
<circle cx="350.5" cy="247.6" r="2.35" fill="rgb(153, 44, 177)"/>
<circle cx="345.8" cy="241.0" r="2.35" fill="rgb(165, 29, 169)"/>
<circle cx="332.1" cy="241.0" r="2.35" fill="rgb(208, 3, 137)"/>
<circle cx="359.9" cy="241.0" r="2.35" fill="rgb(141, 67, 195)"/>
<circle cx="340.5" cy="244.3" r="2.35" fill="rgb(173, 17, 165)"/>
<circle cx="328.2" cy="241.0" r="2.35" fill="rgb(201, 3, 144)"/>
<circle cx="362.9" cy="244.3" r="2.35" fill="rgb(140, 68, 196)"/>
<circle cx="274.7" cy="241.0" r="2.35" fill="rgb(235, 3, 94)"/>
<circle cx="314.0" cy="241.0" r="2.35" fill="rgb(212, 3, 132)"/>
<circle cx="352.5" cy="234.4" r="2.35" fill="rgb(149, 52, 183)"/>
<circle cx="369.8" cy="234.4" r="2.35" fill="rgb(127, 82, 209)"/>
<circle cx="350.8" cy="244.3" r="2.35" fill="rgb(151, 49, 180)"/>
<circle cx="343.6" cy="241.0" r="2.35" fill="rgb(161, 33, 170)"/>
<circle cx="397.9" cy="241.0" r="2.35" fill="rgb(41, 132, 247)"/>
<circle cx="357.0" cy="237.7" r="2.35" fill="rgb(144, 61, 190)"/>
<circle cx="381.3" cy="244.3" r="2.35" fill="rgb(95, 102, 227)"/>
<circle cx="266.6" cy="239.4" r="2.35" fill="rgb(235, 3, 96)"/>
<circle cx="365.5" cy="237.7" r="2.35" fill="rgb(131, 79, 206)"/>
<circle cx="304.9" cy="244.3" r="2.35" fill="rgb(230, 3, 106)"/>
<circle cx="388.6" cy="241.0" r="2.35" fill="rgb(39, 114, 237)"/>
<circle cx="362.1" cy="241.0" r="2.35" fill="rgb(130, 79, 206)"/>
<circle cx="411.9" cy="241.0" r="2.35" fill="rgb(41, 137, 250)"/>
<circle cx="385.2" cy="237.7" r="2.35" fill="rgb(78, 108, 232)"/>
<circle cx="363.3" cy="234.4" r="2.35" fill="rgb(142, 64, 193)"/>
<circle cx="376.2" cy="244.3" r="2.35" fill="rgb(96, 102, 227)"/>
<circle cx="284.0" cy="241.0" r="2.35" fill="rgb(237, 3, 83)"/>
<circle cx="356.6" cy="244.3" r="2.35" fill="rgb(145, 60, 190)"/>
<circle cx="334.9" cy="244.3" r="2.35" fill="rgb(189, 3, 154)"/>
<circle cx="337.6" cy="237.7" r="2.35" fill="rgb(186, 3, 155)"/>
<circle cx="372.6" cy="247.6" r="2.35" fill="rgb(116, 91, 217)"/>
<circle cx="344.3" cy="234.4" r="2.35" fill="rgb(161, 33, 170)"/>
<circle cx="356.5" cy="234.4" r="2.35" fill="rgb(147, 57, 187)"/>
<circle cx="392.0" cy="241.0" r="2.35" fill="rgb(39, 116, 238)"/>
<circle cx="312.4" cy="241.0" r="2.35" fill="rgb(220, 3, 122)"/>
<circle cx="408.8" cy="241.0" r="2.35" fill="rgb(41, 142, 251)"/>
<circle cx="382.7" cy="241.0" r="2.35" fill="rgb(80, 108, 232)"/>
<circle cx="383.9" cy="244.3" r="2.35" fill="rgb(92, 103, 228)"/>
<circle cx="319.2" cy="241.0" r="2.35" fill="rgb(218, 3, 125)"/>
<circle cx="353.0" cy="241.0" r="2.35" fill="rgb(150, 53, 184)"/>
<circle cx="296.2" cy="241.0" r="2.35" fill="rgb(233, 3, 101)"/>
<circle cx="345.8" cy="234.4" r="2.35" fill="rgb(163, 31, 170)"/>
<circle cx="350.3" cy="231.1" r="2.35" fill="rgb(154, 41, 175)"/>
<circle cx="330.4" cy="247.6" r="2.35" fill="rgb(191, 3, 152)"/>
<circle cx="322.3" cy="241.0" r="2.35" fill="rgb(205, 3, 140)"/>
<circle cx="385.0" cy="241.0" r="2.35" fill="rgb(84, 106, 231)"/>
<circle cx="377.9" cy="237.7" r="2.35" fill="rgb(110, 95, 221)"/>
<circle cx="395.7" cy="241.0" r="2.35" fill="rgb(40, 125, 244)"/>
<circle cx="352.6" cy="237.7" r="2.35" fill="rgb(147, 56, 186)"/>
<circle cx="344.0" cy="244.3" r="2.35" fill="rgb(163, 31, 170)"/>
<circle cx="358.0" cy="237.7" r="2.35" fill="rgb(141, 66, 194)"/>
<circle cx="346.7" cy="247.6" r="2.35" fill="rgb(170, 22, 166)"/>
<circle cx="414.0" cy="241.0" r="2.35" fill="rgb(41, 130, 247)"/>
<circle cx="390.8" cy="244.3" r="2.35" fill="rgb(39, 116, 238)"/>
<circle cx="255.3" cy="241.0" r="2.35" fill="rgb(237, 3, 81)"/>
<circle cx="369.7" cy="250.9" r="2.35" fill="rgb(126, 83, 210)"/>
<circle cx="316.1" cy="237.7" r="2.35" fill="rgb(215, 3, 128)"/>
<circle cx="293.5" cy="241.0" r="2.35" fill="rgb(230, 3, 105)"/>
<circle cx="334.5" cy="244.3" r="2.35" fill="rgb(190, 3, 153)"/>
<circle cx="349.9" cy="237.7" r="2.35" fill="rgb(153, 44, 177)"/>
<circle cx="339.3" cy="247.6" r="2.35" fill="rgb(178, 6, 161)"/>
<circle cx="425.2" cy="241.0" r="2.35" fill="rgb(41, 136, 249)"/>
<circle cx="368.9" cy="244.3" r="2.35" fill="rgb(127, 82, 209)"/>
<circle cx="374.5" cy="247.6" r="2.35" fill="rgb(107, 96, 221)"/>
<circle cx="350.1" cy="247.6" r="2.35" fill="rgb(155, 39, 174)"/>
<circle cx="384.5" cy="247.6" r="2.35" fill="rgb(83, 107, 231)"/>
<circle cx="358.3" cy="244.3" r="2.35" fill="rgb(145, 60, 190)"/>
<circle cx="418.0" cy="241.0" r="2.35" fill="rgb(41, 135, 248)"/>
<circle cx="331.7" cy="237.7" r="2.35" fill="rgb(193, 3, 151)"/>
<circle cx="328.1" cy="234.4" r="2.35" fill="rgb(198, 3, 146)"/>
<circle cx="299.3" cy="237.7" r="2.35" fill="rgb(236, 3, 91)"/>
<circle cx="327.7" cy="244.3" r="2.35" fill="rgb(207, 3, 138)"/>
<circle cx="287.4" cy="241.0" r="2.35" fill="rgb(237, 3, 91)"/>
<circle cx="371.6" cy="250.9" r="2.35" fill="rgb(117, 90, 216)"/>
<circle cx="336.6" cy="237.7" r="2.35" fill="rgb(180, 3, 160)"/>
<circle cx="308.3" cy="241.0" r="2.35" fill="rgb(228, 3, 110)"/>
<circle cx="331.5" cy="244.3" r="2.35" fill="rgb(200, 3, 145)"/>
<circle cx="393.8" cy="237.7" r="2.35" fill="rgb(69, 111, 234)"/>
<circle cx="318.7" cy="241.0" r="2.35" fill="rgb(211, 3, 133)"/>
<circle cx="349.2" cy="244.3" r="2.35" fill="rgb(158, 36, 172)"/>
<circle cx="366.7" cy="241.0" r="2.35" fill="rgb(130, 79, 206)"/>
<circle cx="390.0" cy="241.0" r="2.35" fill="rgb(39, 116, 238)"/>
<circle cx="369.2" cy="237.7" r="2.35" fill="rgb(126, 83, 210)"/>
<circle cx="331.7" cy="241.0" r="2.35" fill="rgb(187, 3, 155)"/>
<circle cx="347.5" cy="244.3" r="2.35" fill="rgb(168, 24, 167)"/>
<circle cx="347.6" cy="241.0" r="2.35" fill="rgb(161, 33, 170)"/>
<circle cx="323.7" cy="244.3" r="2.35" fill="rgb(213, 3, 131)"/>
<circle cx="344.1" cy="237.7" r="2.35" fill="rgb(164, 30, 169)"/>
<circle cx="354.9" cy="247.6" r="2.35" fill="rgb(151, 50, 181)"/>
<circle cx="375.2" cy="231.1" r="2.35" fill="rgb(122, 86, 213)"/>
<circle cx="362.9" cy="237.7" r="2.35" fill="rgb(126, 83, 210)"/>
<circle cx="370.5" cy="241.0" r="2.35" fill="rgb(116, 91, 217)"/>
<circle cx="332.7" cy="247.6" r="2.35" fill="rgb(197, 3, 147)"/>
<circle cx="363.4" cy="241.0" r="2.35" fill="rgb(138, 70, 198)"/>
<circle cx="400.6" cy="241.0" r="2.35" fill="rgb(41, 138, 250)"/>
<circle cx="310.8" cy="271.5" r="2.35" fill="rgb(237, 3, 91)"/>
<circle cx="388.1" cy="284.7" r="2.35" fill="rgb(41, 134, 248)"/>
<circle cx="353.1" cy="274.8" r="2.35" fill="rgb(143, 63, 192)"/>
<circle cx="362.8" cy="284.7" r="2.35" fill="rgb(112, 94, 220)"/>
<circle cx="328.7" cy="274.8" r="2.35" fill="rgb(209, 3, 136)"/>
<circle cx="376.6" cy="274.8" r="2.35" fill="rgb(41, 134, 248)"/>
<circle cx="380.4" cy="264.9" r="2.35" fill="rgb(41, 137, 250)"/>
<circle cx="333.0" cy="274.8" r="2.35" fill="rgb(191, 3, 152)"/>
<circle cx="326.4" cy="274.8" r="2.35" fill="rgb(209, 3, 135)"/>
<circle cx="372.3" cy="271.5" r="2.35" fill="rgb(39, 114, 237)"/>
<circle cx="364.7" cy="281.4" r="2.35" fill="rgb(110, 95, 220)"/>
<circle cx="379.8" cy="268.2" r="2.35" fill="rgb(41, 129, 246)"/>
<circle cx="357.4" cy="271.5" r="2.35" fill="rgb(124, 84, 211)"/>
<circle cx="379.2" cy="271.5" r="2.35" fill="rgb(40, 124, 243)"/>
<circle cx="336.3" cy="274.8" r="2.35" fill="rgb(192, 3, 151)"/>
<circle cx="355.6" cy="278.1" r="2.35" fill="rgb(137, 71, 199)"/>
<circle cx="386.4" cy="281.4" r="2.35" fill="rgb(41, 133, 248)"/>
<circle cx="306.7" cy="274.8" r="2.35" fill="rgb(232, 3, 102)"/>
<circle cx="303.6" cy="274.8" r="2.35" fill="rgb(234, 3, 99)"/>
<circle cx="313.9" cy="274.8" r="2.35" fill="rgb(230, 3, 105)"/>
<circle cx="323.6" cy="274.8" r="2.35" fill="rgb(211, 3, 133)"/>
<circle cx="360.5" cy="274.8" r="2.35" fill="rgb(127, 82, 209)"/>
<circle cx="342.4" cy="274.8" r="2.35" fill="rgb(173, 17, 165)"/>
<circle cx="380.7" cy="281.4" r="2.35" fill="rgb(40, 124, 243)"/>
<circle cx="389.3" cy="271.5" r="2.35" fill="rgb(41, 142, 251)"/>
<circle cx="314.4" cy="274.8" r="2.35" fill="rgb(235, 3, 94)"/>
<circle cx="337.6" cy="274.8" r="2.35" fill="rgb(190, 3, 153)"/>
<circle cx="389.9" cy="274.8" r="2.35" fill="rgb(41, 136, 249)"/>
<circle cx="281.2" cy="274.8" r="2.35" fill="rgb(237, 3, 87)"/>
<circle cx="303.4" cy="274.8" r="2.35" fill="rgb(234, 3, 99)"/>
<circle cx="385.7" cy="284.7" r="2.35" fill="rgb(41, 139, 250)"/>
<circle cx="295.9" cy="274.8" r="2.35" fill="rgb(237, 3, 81)"/>
<circle cx="301.6" cy="273.1" r="2.35" fill="rgb(237, 3, 88)"/>
<circle cx="305.8" cy="274.8" r="2.35" fill="rgb(235, 3, 95)"/>
<circle cx="382.2" cy="284.7" r="2.35" fill="rgb(40, 126, 244)"/>
<circle cx="376.4" cy="281.4" r="2.35" fill="rgb(40, 128, 245)"/>
<circle cx="316.9" cy="274.8" r="2.35" fill="rgb(231, 3, 103)"/>
<circle cx="367.9" cy="268.2" r="2.35" fill="rgb(75, 109, 233)"/>
<circle cx="320.3" cy="274.8" r="2.35" fill="rgb(234, 3, 98)"/>
<circle cx="366.9" cy="278.1" r="2.35" fill="rgb(92, 103, 228)"/>
<circle cx="351.1" cy="271.5" r="2.35" fill="rgb(147, 57, 187)"/>
<circle cx="386.5" cy="271.5" r="2.35" fill="rgb(41, 130, 247)"/>
<circle cx="358.2" cy="281.4" r="2.35" fill="rgb(131, 78, 206)"/>
<circle cx="364.5" cy="278.1" r="2.35" fill="rgb(124, 84, 211)"/>
<circle cx="365.1" cy="281.4" r="2.35" fill="rgb(91, 104, 229)"/>
<circle cx="344.8" cy="274.8" r="2.35" fill="rgb(174, 15, 164)"/>
<circle cx="367.8" cy="278.1" r="2.35" fill="rgb(102, 100, 225)"/>
<circle cx="271.6" cy="274.8" r="2.35" fill="rgb(237, 3, 89)"/>
<circle cx="349.4" cy="274.8" r="2.35" fill="rgb(153, 44, 177)"/>
<circle cx="368.7" cy="271.5" r="2.35" fill="rgb(80, 108, 232)"/>
<circle cx="371.5" cy="274.8" r="2.35" fill="rgb(63, 111, 234)"/>
<circle cx="194.9" cy="274.8" r="2.35" fill="rgb(237, 3, 89)"/>
<circle cx="379.2" cy="278.1" r="2.35" fill="rgb(40, 127, 245)"/>
<circle cx="372.9" cy="274.8" r="2.35" fill="rgb(40, 124, 243)"/>
<circle cx="312.8" cy="274.8" r="2.35" fill="rgb(231, 3, 103)"/>
<circle cx="393.1" cy="274.8" r="2.35" fill="rgb(41, 131, 247)"/>
<circle cx="367.5" cy="274.8" r="2.35" fill="rgb(83, 107, 231)"/>
<circle cx="284.2" cy="274.8" r="2.35" fill="rgb(235, 3, 96)"/>
<circle cx="301.5" cy="274.8" r="2.35" fill="rgb(235, 3, 96)"/>
<circle cx="362.2" cy="271.5" r="2.35" fill="rgb(107, 97, 222)"/>
<circle cx="367.5" cy="268.2" r="2.35" fill="rgb(99, 101, 226)"/>
<circle cx="356.0" cy="274.8" r="2.35" fill="rgb(132, 77, 205)"/>
<circle cx="385.0" cy="278.1" r="2.35" fill="rgb(41, 138, 250)"/>
<circle cx="376.6" cy="268.2" r="2.35" fill="rgb(40, 120, 241)"/>
<circle cx="385.9" cy="274.8" r="2.35" fill="rgb(41, 131, 247)"/>
<circle cx="384.2" cy="274.8" r="2.35" fill="rgb(41, 130, 247)"/>
<circle cx="357.6" cy="278.1" r="2.35" fill="rgb(127, 82, 209)"/>
<circle cx="308.4" cy="274.8" r="2.35" fill="rgb(237, 3, 90)"/>
<circle cx="334.8" cy="271.5" r="2.35" fill="rgb(197, 3, 147)"/>
<circle cx="385.7" cy="268.2" r="2.35" fill="rgb(41, 140, 250)"/>
<circle cx="371.9" cy="278.1" r="2.35" fill="rgb(40, 122, 242)"/>
<circle cx="386.9" cy="268.2" r="2.35" fill="rgb(41, 136, 249)"/>
<circle cx="381.0" cy="271.5" r="2.35" fill="rgb(41, 130, 247)"/>
<circle cx="373.1" cy="271.5" r="2.35" fill="rgb(39, 116, 238)"/>
<circle cx="376.8" cy="278.1" r="2.35" fill="rgb(41, 129, 246)"/>
<circle cx="341.4" cy="274.8" r="2.35" fill="rgb(174, 15, 164)"/>
<circle cx="384.5" cy="281.4" r="2.35" fill="rgb(40, 121, 241)"/>
<circle cx="378.4" cy="274.8" r="2.35" fill="rgb(40, 127, 245)"/>
<circle cx="385.7" cy="271.5" r="2.35" fill="rgb(41, 135, 248)"/>
<circle cx="371.2" cy="268.2" r="2.35" fill="rgb(39, 115, 238)"/>
<circle cx="232.5" cy="274.8" r="2.35" fill="rgb(237, 3, 90)"/>
<circle cx="318.7" cy="278.1" r="2.35" fill="rgb(234, 3, 99)"/>
<circle cx="362.6" cy="274.8" r="2.35" fill="rgb(124, 84, 211)"/>
<circle cx="349.0" cy="274.8" r="2.35" fill="rgb(147, 56, 186)"/>
<circle cx="308.7" cy="278.1" r="2.35" fill="rgb(236, 3, 93)"/>
<circle cx="377.6" cy="284.7" r="2.35" fill="rgb(40, 127, 245)"/>
<circle cx="358.9" cy="274.8" r="2.35" fill="rgb(133, 77, 205)"/>
<circle cx="376.2" cy="271.5" r="2.35" fill="rgb(41, 129, 246)"/>
<circle cx="287.3" cy="274.8" r="2.35" fill="rgb(237, 3, 87)"/>
<circle cx="317.8" cy="271.5" r="2.35" fill="rgb(227, 3, 112)"/>
<circle cx="381.9" cy="278.1" r="2.35" fill="rgb(41, 129, 246)"/>
<circle cx="381.5" cy="268.2" r="2.35" fill="rgb(41, 130, 247)"/>
<circle cx="390.4" cy="268.2" r="2.35" fill="rgb(41, 136, 249)"/>
<circle cx="365.4" cy="284.7" r="2.35" fill="rgb(86, 106, 230)"/>
<circle cx="363.4" cy="271.5" r="2.35" fill="rgb(100, 101, 226)"/>
<circle cx="369.9" cy="281.4" r="2.35" fill="rgb(39, 115, 238)"/>
<circle cx="378.6" cy="284.7" r="2.35" fill="rgb(40, 125, 244)"/>
<circle cx="310.8" cy="274.8" r="2.35" fill="rgb(234, 3, 99)"/>
<circle cx="302.7" cy="271.5" r="2.35" fill="rgb(235, 3, 95)"/>
<circle cx="362.5" cy="268.2" r="2.35" fill="rgb(119, 89, 215)"/>
<circle cx="303.8" cy="278.1" r="2.35" fill="rgb(237, 3, 83)"/>
<circle cx="393.0" cy="278.1" r="2.35" fill="rgb(41, 136, 249)"/>
<circle cx="373.1" cy="281.4" r="2.35" fill="rgb(73, 110, 233)"/>
<circle cx="384.5" cy="264.9" r="2.35" fill="rgb(41, 129, 246)"/>
<circle cx="365.8" cy="271.5" r="2.35" fill="rgb(113, 93, 219)"/>
<circle cx="386.2" cy="278.1" r="2.35" fill="rgb(41, 135, 248)"/>
<circle cx="368.8" cy="264.9" r="2.35" fill="rgb(93, 103, 228)"/>
<circle cx="380.6" cy="281.4" r="2.35" fill="rgb(41, 134, 248)"/>
<circle cx="388.5" cy="278.1" r="2.35" fill="rgb(41, 133, 248)"/>
<circle cx="368.5" cy="274.8" r="2.35" fill="rgb(69, 111, 234)"/>
<circle cx="356.9" cy="271.5" r="2.35" fill="rgb(120, 88, 214)"/>
<circle cx="382.7" cy="274.8" r="2.35" fill="rgb(41, 136, 249)"/>
<circle cx="373.8" cy="278.1" r="2.35" fill="rgb(39, 116, 238)"/>
<circle cx="317.6" cy="274.8" r="2.35" fill="rgb(234, 3, 99)"/>
<circle cx="401.3" cy="311.8" r="2.35" fill="rgb(237, 3, 81)"/>
<circle cx="350.3" cy="305.2" r="2.35" fill="rgb(171, 21, 166)"/>
<circle cx="304.4" cy="308.5" r="2.35" fill="rgb(41, 133, 248)"/>
<circle cx="343.3" cy="308.5" r="2.35" fill="rgb(153, 44, 177)"/>
<circle cx="374.5" cy="301.9" r="2.35" fill="rgb(217, 3, 126)"/>
<circle cx="362.8" cy="311.8" r="2.35" fill="rgb(202, 3, 143)"/>
<circle cx="361.6" cy="308.5" r="2.35" fill="rgb(199, 3, 145)"/>
<circle cx="348.9" cy="308.5" r="2.35" fill="rgb(163, 31, 170)"/>
<circle cx="267.6" cy="305.2" r="2.35" fill="rgb(41, 142, 251)"/>
<circle cx="378.0" cy="308.5" r="2.35" fill="rgb(223, 3, 117)"/>
<circle cx="331.1" cy="311.8" r="2.35" fill="rgb(136, 72, 200)"/>
<circle cx="338.8" cy="301.9" r="2.35" fill="rgb(140, 68, 196)"/>
<circle cx="387.5" cy="305.2" r="2.35" fill="rgb(230, 3, 104)"/>
<circle cx="287.0" cy="308.5" r="2.35" fill="rgb(41, 140, 250)"/>
<circle cx="301.3" cy="308.5" r="2.35" fill="rgb(41, 142, 251)"/>
<circle cx="316.6" cy="308.5" r="2.35" fill="rgb(65, 111, 234)"/>
<circle cx="346.0" cy="311.8" r="2.35" fill="rgb(163, 31, 170)"/>
<circle cx="352.3" cy="301.9" r="2.35" fill="rgb(164, 30, 169)"/>
<circle cx="270.7" cy="308.5" r="2.35" fill="rgb(41, 142, 251)"/>
<circle cx="341.9" cy="315.1" r="2.35" fill="rgb(155, 39, 174)"/>
<circle cx="389.6" cy="301.9" r="2.35" fill="rgb(228, 3, 111)"/>
<circle cx="402.7" cy="308.5" r="2.35" fill="rgb(235, 3, 94)"/>
<circle cx="308.4" cy="308.5" r="2.35" fill="rgb(41, 130, 247)"/>
<circle cx="311.0" cy="308.5" r="2.35" fill="rgb(40, 122, 242)"/>
<circle cx="337.0" cy="305.2" r="2.35" fill="rgb(146, 59, 189)"/>
<circle cx="340.6" cy="308.5" r="2.35" fill="rgb(146, 58, 188)"/>
<circle cx="331.8" cy="305.2" r="2.35" fill="rgb(130, 80, 207)"/>
<circle cx="377.8" cy="311.8" r="2.35" fill="rgb(220, 3, 122)"/>
<circle cx="358.9" cy="305.2" r="2.35" fill="rgb(187, 3, 155)"/>
<circle cx="385.3" cy="305.2" r="2.35" fill="rgb(224, 3, 116)"/>
<circle cx="384.8" cy="308.5" r="2.35" fill="rgb(223, 3, 118)"/>
<circle cx="363.7" cy="305.2" r="2.35" fill="rgb(204, 3, 142)"/>
<circle cx="328.4" cy="305.2" r="2.35" fill="rgb(121, 86, 213)"/>
<circle cx="404.6" cy="311.8" r="2.35" fill="rgb(237, 3, 81)"/>
<circle cx="305.6" cy="308.5" r="2.35" fill="rgb(41, 129, 246)"/>
<circle cx="339.5" cy="311.8" r="2.35" fill="rgb(143, 63, 192)"/>
<circle cx="387.6" cy="308.5" r="2.35" fill="rgb(229, 3, 107)"/>
<circle cx="367.6" cy="311.8" r="2.35" fill="rgb(209, 3, 136)"/>
<circle cx="377.9" cy="301.9" r="2.35" fill="rgb(221, 3, 120)"/>
<circle cx="336.8" cy="308.5" r="2.35" fill="rgb(145, 60, 190)"/>
<circle cx="326.0" cy="315.1" r="2.35" fill="rgb(122, 87, 214)"/>
<circle cx="374.1" cy="315.1" r="2.35" fill="rgb(214, 3, 129)"/>
<circle cx="365.1" cy="315.1" r="2.35" fill="rgb(206, 3, 139)"/>
<circle cx="344.4" cy="311.8" r="2.35" fill="rgb(169, 23, 166)"/>
<circle cx="341.6" cy="305.2" r="2.35" fill="rgb(148, 55, 186)"/>
<circle cx="253.9" cy="308.5" r="2.35" fill="rgb(41, 142, 251)"/>
<circle cx="400.2" cy="308.5" r="2.35" fill="rgb(237, 3, 83)"/>
<circle cx="350.2" cy="301.9" r="2.35" fill="rgb(174, 14, 164)"/>
<circle cx="355.3" cy="311.8" r="2.35" fill="rgb(184, 3, 157)"/>
<circle cx="395.1" cy="308.5" r="2.35" fill="rgb(237, 3, 87)"/>
<circle cx="375.9" cy="305.2" r="2.35" fill="rgb(217, 3, 126)"/>
<circle cx="403.7" cy="305.2" r="2.35" fill="rgb(237, 3, 89)"/>
<circle cx="374.6" cy="315.1" r="2.35" fill="rgb(219, 3, 123)"/>
<circle cx="327.7" cy="308.5" r="2.35" fill="rgb(127, 82, 209)"/>
<circle cx="372.9" cy="308.5" r="2.35" fill="rgb(222, 3, 119)"/>
<circle cx="301.3" cy="305.2" r="2.35" fill="rgb(41, 129, 246)"/>
<circle cx="313.4" cy="308.5" r="2.35" fill="rgb(40, 128, 245)"/>
<circle cx="324.3" cy="305.2" r="2.35" fill="rgb(119, 89, 215)"/>
<circle cx="367.9" cy="301.9" r="2.35" fill="rgb(204, 3, 142)"/>
<circle cx="335.4" cy="311.8" r="2.35" fill="rgb(125, 83, 210)"/>
<circle cx="396.7" cy="305.2" r="2.35" fill="rgb(237, 3, 90)"/>
<circle cx="370.8" cy="311.8" r="2.35" fill="rgb(211, 3, 133)"/>
<circle cx="372.7" cy="311.8" r="2.35" fill="rgb(212, 3, 132)"/>
<circle cx="374.0" cy="305.2" r="2.35" fill="rgb(209, 3, 135)"/>
<circle cx="351.0" cy="308.5" r="2.35" fill="rgb(158, 35, 171)"/>
<circle cx="282.9" cy="308.5" r="2.35" fill="rgb(41, 140, 250)"/>
<circle cx="364.7" cy="305.2" r="2.35" fill="rgb(192, 3, 151)"/>
<circle cx="343.2" cy="305.2" r="2.35" fill="rgb(152, 48, 179)"/>
<circle cx="366.0" cy="308.5" r="2.35" fill="rgb(204, 3, 141)"/>
<circle cx="330.4" cy="308.5" r="2.35" fill="rgb(127, 82, 209)"/>
<circle cx="355.0" cy="308.5" r="2.35" fill="rgb(179, 3, 160)"/>
<circle cx="333.1" cy="308.5" r="2.35" fill="rgb(134, 75, 202)"/>
<circle cx="380.2" cy="308.5" r="2.35" fill="rgb(217, 3, 126)"/>
<circle cx="326.1" cy="305.2" r="2.35" fill="rgb(107, 97, 222)"/>
<circle cx="389.8" cy="308.5" r="2.35" fill="rgb(232, 3, 102)"/>
<circle cx="388.2" cy="311.8" r="2.35" fill="rgb(234, 3, 100)"/>
<circle cx="389.7" cy="315.1" r="2.35" fill="rgb(232, 3, 102)"/>
<circle cx="380.0" cy="311.8" r="2.35" fill="rgb(219, 3, 123)"/>
<circle cx="368.6" cy="308.5" r="2.35" fill="rgb(209, 3, 135)"/>
<circle cx="403.5" cy="308.5" r="2.35" fill="rgb(234, 3, 99)"/>
<circle cx="356.2" cy="301.9" r="2.35" fill="rgb(174, 14, 163)"/>
<circle cx="267.6" cy="311.8" r="2.35" fill="rgb(41, 142, 251)"/>
<circle cx="327.8" cy="311.8" r="2.35" fill="rgb(121, 86, 213)"/>
<circle cx="381.5" cy="305.2" r="2.35" fill="rgb(222, 3, 119)"/>
<circle cx="351.5" cy="315.1" r="2.35" fill="rgb(166, 28, 168)"/>
<circle cx="301.3" cy="311.8" r="2.35" fill="rgb(41, 141, 251)"/>
<circle cx="267.6" cy="308.5" r="2.35" fill="rgb(41, 142, 251)"/>
<circle cx="346.7" cy="315.1" r="2.35" fill="rgb(158, 35, 171)"/>
<circle cx="351.8" cy="305.2" r="2.35" fill="rgb(155, 41, 175)"/>
<circle cx="293.5" cy="308.5" r="2.35" fill="rgb(41, 142, 251)"/>
<circle cx="312.2" cy="305.2" r="2.35" fill="rgb(40, 124, 243)"/>
<circle cx="293.5" cy="305.2" r="2.35" fill="rgb(41, 132, 247)"/>
<circle cx="375.6" cy="311.8" r="2.35" fill="rgb(220, 3, 122)"/>
<circle cx="350.5" cy="311.8" r="2.35" fill="rgb(176, 8, 162)"/>
<circle cx="364.3" cy="311.8" r="2.35" fill="rgb(208, 3, 137)"/>
<circle cx="321.8" cy="308.5" r="2.35" fill="rgb(98, 102, 227)"/>
<circle cx="305.5" cy="305.2" r="2.35" fill="rgb(41, 132, 247)"/>
<circle cx="338.2" cy="308.5" r="2.35" fill="rgb(138, 70, 198)"/>
<circle cx="361.5" cy="301.9" r="2.35" fill="rgb(202, 3, 143)"/>
<circle cx="357.4" cy="308.5" r="2.35" fill="rgb(190, 3, 153)"/>
<circle cx="358.8" cy="311.8" r="2.35" fill="rgb(192, 3, 151)"/>
<circle cx="352.5" cy="311.8" r="2.35" fill="rgb(174, 13, 163)"/>
<circle cx="377.5" cy="315.1" r="2.35" fill="rgb(221, 3, 120)"/>
<circle cx="393.7" cy="308.5" r="2.35" fill="rgb(235, 3, 96)"/>
<circle cx="357.7" cy="305.2" r="2.35" fill="rgb(187, 3, 155)"/>
<circle cx="308.5" cy="308.5" r="2.35" fill="rgb(40, 123, 243)"/>
<circle cx="366.8" cy="305.2" r="2.35" fill="rgb(200, 3, 144)"/>
<circle cx="383.5" cy="308.5" r="2.35" fill="rgb(221, 3, 120)"/>
<circle cx="326.8" cy="301.9" r="2.35" fill="rgb(119, 89, 215)"/>
<circle cx="377.9" cy="305.2" r="2.35" fill="rgb(224, 3, 116)"/>
<circle cx="370.9" cy="308.5" r="2.35" fill="rgb(213, 3, 131)"/>
<circle cx="325.3" cy="308.5" r="2.35" fill="rgb(113, 93, 219)"/>
<circle cx="315.3" cy="311.8" r="2.35" fill="rgb(70, 111, 234)"/>
<circle cx="274.7" cy="308.5" r="2.35" fill="rgb(41, 139, 250)"/>
<circle cx="341.2" cy="311.8" r="2.35" fill="rgb(139, 69, 197)"/>
<circle cx="353.5" cy="315.1" r="2.35" fill="rgb(166, 28, 168)"/>
<circle cx="316.1" cy="308.5" r="2.35" fill="rgb(40, 122, 242)"/>
<circle cx="322.7" cy="308.5" r="2.35" fill="rgb(104, 99, 224)"/>
<circle cx="376.6" cy="308.5" r="2.35" fill="rgb(216, 3, 127)"/>
<circle cx="311.5" cy="308.5" r="2.35" fill="rgb(40, 122, 242)"/>
<circle cx="358.3" cy="311.8" r="2.35" fill="rgb(200, 3, 144)"/>
<circle cx="370.4" cy="305.2" r="2.35" fill="rgb(209, 3, 136)"/>
<circle cx="326.5" cy="311.8" r="2.35" fill="rgb(119, 89, 216)"/>
<circle cx="346.1" cy="308.5" r="2.35" fill="rgb(154, 42, 175)"/>
<circle cx="359.7" cy="308.5" r="2.35" fill="rgb(171, 19, 165)"/>
<circle cx="321.5" cy="311.8" r="2.35" fill="rgb(92, 103, 228)"/>
<circle cx="382.9" cy="311.8" r="2.35" fill="rgb(222, 3, 119)"/>
<circle cx="339.7" cy="305.2" r="2.35" fill="rgb(149, 54, 185)"/>
<circle cx="457.9" cy="308.5" r="2.35" fill="rgb(237, 3, 87)"/>
<circle cx="314.6" cy="308.5" r="2.35" fill="rgb(40, 122, 242)"/>
<circle cx="353.7" cy="305.2" r="2.35" fill="rgb(178, 6, 161)"/>
<circle cx="348.1" cy="305.2" r="2.35" fill="rgb(159, 34, 171)"/>
<circle cx="344.4" cy="339.0" r="2.35" fill="rgb(185, 3, 156)"/>
<circle cx="388.9" cy="342.3" r="2.35" fill="rgb(41, 140, 250)"/>
<circle cx="366.9" cy="345.6" r="2.35" fill="rgb(127, 82, 209)"/>
<circle cx="306.5" cy="342.3" r="2.35" fill="rgb(237, 3, 81)"/>
<circle cx="339.1" cy="345.6" r="2.35" fill="rgb(184, 3, 157)"/>
<circle cx="354.9" cy="342.3" r="2.35" fill="rgb(155, 40, 174)"/>
<circle cx="374.3" cy="348.9" r="2.35" fill="rgb(83, 107, 231)"/>
<circle cx="358.2" cy="342.3" r="2.35" fill="rgb(149, 52, 183)"/>
<circle cx="344.3" cy="345.6" r="2.35" fill="rgb(184, 3, 157)"/>
<circle cx="371.7" cy="342.3" r="2.35" fill="rgb(90, 104, 229)"/>
<circle cx="350.4" cy="339.0" r="2.35" fill="rgb(163, 31, 170)"/>
<circle cx="380.2" cy="332.4" r="2.35" fill="rgb(41, 129, 246)"/>
<circle cx="312.6" cy="342.3" r="2.35" fill="rgb(236, 3, 92)"/>
<circle cx="327.3" cy="339.0" r="2.35" fill="rgb(218, 3, 124)"/>
<circle cx="372.0" cy="339.0" r="2.35" fill="rgb(97, 102, 227)"/>
<circle cx="337.0" cy="339.0" r="2.35" fill="rgb(209, 3, 136)"/>
<circle cx="367.5" cy="352.2" r="2.35" fill="rgb(133, 76, 204)"/>
<circle cx="362.2" cy="335.7" r="2.35" fill="rgb(144, 61, 191)"/>
<circle cx="357.1" cy="335.7" r="2.35" fill="rgb(167, 26, 167)"/>
<circle cx="387.9" cy="342.3" r="2.35" fill="rgb(41, 134, 248)"/>
<circle cx="332.1" cy="342.3" r="2.35" fill="rgb(203, 3, 142)"/>
<circle cx="373.2" cy="339.0" r="2.35" fill="rgb(83, 107, 231)"/>
<circle cx="370.9" cy="335.7" r="2.35" fill="rgb(94, 103, 228)"/>
<circle cx="342.2" cy="339.0" r="2.35" fill="rgb(191, 3, 152)"/>
<circle cx="357.0" cy="345.6" r="2.35" fill="rgb(160, 33, 171)"/>
<circle cx="362.4" cy="339.0" r="2.35" fill="rgb(146, 59, 189)"/>
<circle cx="273.9" cy="342.3" r="2.35" fill="rgb(237, 3, 84)"/>
<circle cx="322.5" cy="339.0" r="2.35" fill="rgb(221, 3, 120)"/>
<circle cx="378.3" cy="339.0" r="2.35" fill="rgb(40, 119, 240)"/>
<circle cx="234.4" cy="342.3" r="2.35" fill="rgb(237, 3, 81)"/>
<circle cx="379.4" cy="348.9" r="2.35" fill="rgb(40, 127, 245)"/>
<circle cx="368.0" cy="342.3" r="2.35" fill="rgb(124, 84, 211)"/>
<circle cx="383.0" cy="342.3" r="2.35" fill="rgb(40, 126, 244)"/>
<circle cx="376.3" cy="339.0" r="2.35" fill="rgb(39, 116, 238)"/>
<circle cx="342.4" cy="342.3" r="2.35" fill="rgb(189, 3, 154)"/>
<circle cx="325.8" cy="339.0" r="2.35" fill="rgb(220, 3, 122)"/>
<circle cx="370.7" cy="348.9" r="2.35" fill="rgb(100, 101, 226)"/>
<circle cx="388.0" cy="345.6" r="2.35" fill="rgb(41, 135, 248)"/>
<circle cx="385.7" cy="342.3" r="2.35" fill="rgb(40, 128, 245)"/>
<circle cx="334.6" cy="342.3" r="2.35" fill="rgb(201, 3, 144)"/>
<circle cx="303.4" cy="342.3" r="2.35" fill="rgb(237, 3, 82)"/>
<circle cx="301.4" cy="342.3" r="2.35" fill="rgb(237, 3, 81)"/>
<circle cx="366.7" cy="332.4" r="2.35" fill="rgb(134, 75, 203)"/>
<circle cx="363.1" cy="339.0" r="2.35" fill="rgb(154, 43, 176)"/>
<circle cx="371.5" cy="332.4" r="2.35" fill="rgb(90, 104, 229)"/>
<circle cx="369.9" cy="335.7" r="2.35" fill="rgb(116, 91, 217)"/>
<circle cx="375.5" cy="348.9" r="2.35" fill="rgb(90, 104, 229)"/>
<circle cx="364.7" cy="352.2" r="2.35" fill="rgb(136, 72, 199)"/>
<circle cx="245.2" cy="342.3" r="2.35" fill="rgb(237, 3, 81)"/>
<circle cx="379.7" cy="345.6" r="2.35" fill="rgb(41, 132, 247)"/>
<circle cx="325.9" cy="342.3" r="2.35" fill="rgb(221, 3, 120)"/>
<circle cx="367.6" cy="335.7" r="2.35" fill="rgb(135, 74, 202)"/>
<circle cx="376.8" cy="345.6" r="2.35" fill="rgb(41, 114, 237)"/>
<circle cx="329.9" cy="345.6" r="2.35" fill="rgb(210, 3, 134)"/>
<circle cx="369.1" cy="345.6" r="2.35" fill="rgb(123, 85, 212)"/>
<circle cx="395.6" cy="339.0" r="2.35" fill="rgb(41, 138, 250)"/>
<circle cx="316.7" cy="342.3" r="2.35" fill="rgb(235, 3, 98)"/>
<circle cx="385.0" cy="345.6" r="2.35" fill="rgb(41, 132, 247)"/>
<circle cx="327.1" cy="345.6" r="2.35" fill="rgb(219, 3, 123)"/>
<circle cx="377.8" cy="332.4" r="2.35" fill="rgb(40, 127, 245)"/>
<circle cx="382.3" cy="335.7" r="2.35" fill="rgb(41, 132, 247)"/>
<circle cx="369.8" cy="348.9" r="2.35" fill="rgb(82, 107, 231)"/>
<circle cx="354.5" cy="342.3" r="2.35" fill="rgb(156, 39, 173)"/>
<circle cx="345.6" cy="342.3" r="2.35" fill="rgb(184, 3, 157)"/>
<circle cx="347.7" cy="339.0" r="2.35" fill="rgb(172, 18, 165)"/>
<circle cx="383.1" cy="339.0" r="2.35" fill="rgb(40, 120, 241)"/>
<circle cx="393.3" cy="339.0" r="2.35" fill="rgb(41, 141, 250)"/>
<circle cx="307.6" cy="342.3" r="2.35" fill="rgb(237, 3, 83)"/>
<circle cx="358.9" cy="348.9" r="2.35" fill="rgb(145, 60, 190)"/>
<circle cx="363.1" cy="332.4" r="2.35" fill="rgb(138, 71, 199)"/>
<circle cx="336.1" cy="339.0" r="2.35" fill="rgb(197, 3, 147)"/>
<circle cx="397.7" cy="342.3" r="2.35" fill="rgb(41, 142, 251)"/>
<circle cx="300.4" cy="342.3" r="2.35" fill="rgb(237, 3, 88)"/>
<circle cx="253.0" cy="342.3" r="2.35" fill="rgb(237, 3, 81)"/>
<circle cx="343.6" cy="345.6" r="2.35" fill="rgb(182, 3, 159)"/>
<circle cx="362.2" cy="342.3" r="2.35" fill="rgb(148, 55, 186)"/>
<circle cx="303.4" cy="342.3" r="2.35" fill="rgb(237, 3, 90)"/>
<circle cx="348.5" cy="345.6" r="2.35" fill="rgb(171, 19, 165)"/>
<circle cx="371.5" cy="352.2" r="2.35" fill="rgb(107, 97, 222)"/>
<circle cx="334.9" cy="345.6" r="2.35" fill="rgb(201, 3, 144)"/>
<circle cx="238.7" cy="342.3" r="2.35" fill="rgb(237, 3, 84)"/>
<circle cx="364.7" cy="348.9" r="2.35" fill="rgb(136, 73, 201)"/>
<circle cx="348.6" cy="348.9" r="2.35" fill="rgb(172, 18, 165)"/>
<circle cx="376.5" cy="342.3" r="2.35" fill="rgb(48, 113, 236)"/>
<circle cx="368.5" cy="339.0" r="2.35" fill="rgb(133, 76, 204)"/>
<circle cx="371.5" cy="345.6" r="2.35" fill="rgb(83, 107, 231)"/>
<circle cx="351.4" cy="345.6" r="2.35" fill="rgb(152, 48, 179)"/>
<circle cx="340.2" cy="339.0" r="2.35" fill="rgb(190, 3, 153)"/>
<circle cx="384.4" cy="339.0" r="2.35" fill="rgb(41, 132, 247)"/>
<circle cx="373.3" cy="345.6" r="2.35" fill="rgb(92, 103, 228)"/>
<circle cx="377.5" cy="335.7" r="2.35" fill="rgb(39, 115, 237)"/>
<circle cx="355.6" cy="339.0" r="2.35" fill="rgb(152, 48, 179)"/>
<circle cx="364.7" cy="345.6" r="2.35" fill="rgb(148, 55, 186)"/>
<circle cx="338.8" cy="348.9" r="2.35" fill="rgb(195, 3, 149)"/>
<circle cx="390.2" cy="339.0" r="2.35" fill="rgb(41, 142, 251)"/>
<circle cx="324.3" cy="345.6" r="2.35" fill="rgb(224, 3, 116)"/>
<circle cx="321.3" cy="342.3" r="2.35" fill="rgb(225, 3, 115)"/>
<circle cx="346.8" cy="335.7" r="2.35" fill="rgb(179, 5, 161)"/>
<circle cx="297.3" cy="342.3" r="2.35" fill="rgb(236, 3, 91)"/>
<circle cx="337.6" cy="345.6" r="2.35" fill="rgb(195, 3, 149)"/>
<circle cx="371.4" cy="339.0" r="2.35" fill="rgb(104, 99, 224)"/>
<circle cx="403.8" cy="342.3" r="2.35" fill="rgb(41, 140, 250)"/>
<circle cx="303.8" cy="345.6" r="2.35" fill="rgb(237, 3, 81)"/>
<circle cx="359.2" cy="335.7" r="2.35" fill="rgb(155, 40, 174)"/>
<circle cx="389.8" cy="345.6" r="2.35" fill="rgb(41, 128, 246)"/>
<circle cx="406.9" cy="342.3" r="2.35" fill="rgb(41, 136, 249)"/>
<circle cx="380.9" cy="345.6" r="2.35" fill="rgb(41, 129, 246)"/>
<circle cx="328.9" cy="339.0" r="2.35" fill="rgb(220, 3, 121)"/>
<circle cx="328.8" cy="342.3" r="2.35" fill="rgb(213, 3, 130)"/>
<circle cx="366.6" cy="339.0" r="2.35" fill="rgb(137, 71, 199)"/>
<circle cx="363.5" cy="342.3" r="2.35" fill="rgb(138, 70, 198)"/>
<circle cx="339.2" cy="342.3" r="2.35" fill="rgb(184, 3, 157)"/>
<circle cx="365.9" cy="348.9" r="2.35" fill="rgb(116, 91, 217)"/>
<circle cx="375.0" cy="342.3" r="2.35" fill="rgb(56, 112, 235)"/>
<circle cx="365.7" cy="342.3" r="2.35" fill="rgb(130, 80, 207)"/>
<circle cx="392.1" cy="342.3" r="2.35" fill="rgb(41, 136, 249)"/>
<circle cx="357.9" cy="345.6" r="2.35" fill="rgb(155, 39, 173)"/>
<circle cx="379.6" cy="335.7" r="2.35" fill="rgb(41, 132, 247)"/>
<circle cx="388.0" cy="339.0" r="2.35" fill="rgb(41, 141, 251)"/>
<circle cx="375.2" cy="335.7" r="2.35" fill="rgb(53, 112, 235)"/>
<circle cx="349.1" cy="342.3" r="2.35" fill="rgb(173, 16, 164)"/>
<circle cx="368.2" cy="332.4" r="2.35" fill="rgb(124, 84, 211)"/>
<circle cx="372.0" cy="345.6" r="2.35" fill="rgb(89, 105, 230)"/>
<circle cx="328.5" cy="342.3" r="2.35" fill="rgb(205, 3, 140)"/>
<circle cx="350.4" cy="342.3" r="2.35" fill="rgb(166, 27, 167)"/>
<circle cx="363.0" cy="335.7" r="2.35" fill="rgb(136, 72, 200)"/>
<circle cx="360.8" cy="345.6" r="2.35" fill="rgb(149, 54, 185)"/>
<circle cx="380.2" cy="342.3" r="2.35" fill="rgb(40, 122, 242)"/>
<circle cx="396.1" cy="342.3" r="2.35" fill="rgb(41, 140, 250)"/>
<circle cx="352.3" cy="339.0" r="2.35" fill="rgb(166, 28, 168)"/>
<circle cx="338.8" cy="342.3" r="2.35" fill="rgb(195, 3, 149)"/>
<circle cx="311.6" cy="339.0" r="2.35" fill="rgb(237, 3, 82)"/>
<circle cx="400.5" cy="342.3" r="2.35" fill="rgb(41, 133, 248)"/>
<circle cx="392.2" cy="345.6" r="2.35" fill="rgb(41, 133, 248)"/>
<circle cx="359.7" cy="339.0" r="2.35" fill="rgb(152, 48, 179)"/>
<circle cx="170.2" cy="342.3" r="2.35" fill="rgb(237, 3, 81)"/>
<circle cx="374.1" cy="369.4" r="2.35" fill="rgb(39, 118, 239)"/>
<circle cx="156.3" cy="376.0" r="2.35" fill="rgb(237, 3, 81)"/>
<circle cx="339.9" cy="376.0" r="2.35" fill="rgb(177, 8, 162)"/>
<circle cx="361.5" cy="366.1" r="2.35" fill="rgb(133, 77, 205)"/>
<circle cx="364.9" cy="382.6" r="2.35" fill="rgb(106, 98, 223)"/>
<circle cx="378.8" cy="379.3" r="2.35" fill="rgb(40, 121, 241)"/>
<circle cx="356.8" cy="369.4" r="2.35" fill="rgb(136, 72, 200)"/>
<circle cx="391.6" cy="372.7" r="2.35" fill="rgb(41, 134, 248)"/>
<circle cx="351.1" cy="382.6" r="2.35" fill="rgb(142, 65, 193)"/>
<circle cx="388.6" cy="369.4" r="2.35" fill="rgb(41, 134, 248)"/>
<circle cx="382.9" cy="369.4" r="2.35" fill="rgb(41, 129, 246)"/>
<circle cx="326.6" cy="372.7" r="2.35" fill="rgb(189, 3, 154)"/>
<circle cx="355.3" cy="366.1" r="2.35" fill="rgb(128, 81, 208)"/>
<circle cx="392.4" cy="379.3" r="2.35" fill="rgb(41, 135, 248)"/>
<circle cx="384.9" cy="379.3" r="2.35" fill="rgb(41, 131, 247)"/>
<circle cx="343.0" cy="369.4" r="2.35" fill="rgb(152, 47, 178)"/>
<circle cx="368.3" cy="372.7" r="2.35" fill="rgb(92, 103, 228)"/>
<circle cx="380.6" cy="376.0" r="2.35" fill="rgb(39, 117, 239)"/>
<circle cx="357.4" cy="372.7" r="2.35" fill="rgb(137, 71, 199)"/>
<circle cx="358.3" cy="379.3" r="2.35" fill="rgb(109, 96, 221)"/>
<circle cx="373.8" cy="372.7" r="2.35" fill="rgb(40, 119, 240)"/>
<circle cx="339.8" cy="379.3" r="2.35" fill="rgb(174, 13, 163)"/>
<circle cx="388.8" cy="376.0" r="2.35" fill="rgb(41, 133, 248)"/>
<circle cx="298.6" cy="376.0" r="2.35" fill="rgb(236, 3, 93)"/>
<circle cx="362.8" cy="376.0" r="2.35" fill="rgb(113, 93, 219)"/>
<circle cx="350.9" cy="379.3" r="2.35" fill="rgb(142, 65, 193)"/>
<circle cx="335.4" cy="382.6" r="2.35" fill="rgb(172, 18, 165)"/>
<circle cx="365.8" cy="376.0" r="2.35" fill="rgb(115, 92, 218)"/>
<circle cx="335.9" cy="372.7" r="2.35" fill="rgb(171, 20, 166)"/>
<circle cx="337.8" cy="376.0" r="2.35" fill="rgb(173, 17, 165)"/>
<circle cx="387.5" cy="382.6" r="2.35" fill="rgb(40, 125, 244)"/>
<circle cx="143.1" cy="376.0" r="2.35" fill="rgb(237, 3, 81)"/>
<circle cx="395.2" cy="379.3" r="2.35" fill="rgb(41, 138, 250)"/>
<circle cx="352.2" cy="376.0" r="2.35" fill="rgb(138, 70, 198)"/>
<circle cx="370.5" cy="379.3" r="2.35" fill="rgb(63, 111, 234)"/>
<circle cx="379.4" cy="369.4" r="2.35" fill="rgb(40, 126, 244)"/>
<circle cx="391.7" cy="382.6" r="2.35" fill="rgb(41, 137, 250)"/>
<circle cx="351.0" cy="376.0" r="2.35" fill="rgb(149, 54, 185)"/>
<circle cx="383.3" cy="372.7" r="2.35" fill="rgb(41, 130, 247)"/>
<circle cx="300.7" cy="376.0" r="2.35" fill="rgb(235, 3, 97)"/>
<circle cx="354.8" cy="382.6" r="2.35" fill="rgb(135, 73, 200)"/>
<circle cx="292.5" cy="372.7" r="2.35" fill="rgb(237, 3, 81)"/>
<circle cx="392.9" cy="376.0" r="2.35" fill="rgb(41, 137, 250)"/>
<circle cx="314.0" cy="376.0" r="2.35" fill="rgb(214, 3, 129)"/>
<circle cx="329.8" cy="376.0" r="2.35" fill="rgb(190, 3, 153)"/>
<circle cx="373.9" cy="376.0" r="2.35" fill="rgb(43, 114, 237)"/>
<circle cx="380.5" cy="366.1" r="2.35" fill="rgb(40, 127, 245)"/>
<circle cx="377.9" cy="382.6" r="2.35" fill="rgb(41, 131, 247)"/>
<circle cx="361.1" cy="376.0" r="2.35" fill="rgb(125, 84, 211)"/>
<circle cx="376.2" cy="382.6" r="2.35" fill="rgb(39, 114, 237)"/>
<circle cx="309.9" cy="372.7" r="2.35" fill="rgb(213, 3, 130)"/>
<circle cx="378.3" cy="372.7" r="2.35" fill="rgb(40, 122, 242)"/>
<circle cx="330.8" cy="379.3" r="2.35" fill="rgb(189, 3, 154)"/>
<circle cx="394.1" cy="372.7" r="2.35" fill="rgb(41, 142, 251)"/>
<circle cx="376.6" cy="376.0" r="2.35" fill="rgb(39, 115, 238)"/>
<circle cx="362.2" cy="382.6" r="2.35" fill="rgb(121, 86, 213)"/>
<circle cx="356.3" cy="379.3" r="2.35" fill="rgb(135, 73, 200)"/>
<circle cx="353.6" cy="382.6" r="2.35" fill="rgb(141, 66, 194)"/>
<circle cx="376.5" cy="379.3" r="2.35" fill="rgb(40, 127, 245)"/>
<circle cx="294.5" cy="376.0" r="2.35" fill="rgb(237, 3, 81)"/>
<circle cx="380.6" cy="379.3" r="2.35" fill="rgb(40, 127, 245)"/>
<circle cx="372.1" cy="382.6" r="2.35" fill="rgb(88, 105, 230)"/>
<circle cx="361.6" cy="379.3" r="2.35" fill="rgb(126, 83, 210)"/>
<circle cx="391.8" cy="369.4" r="2.35" fill="rgb(41, 132, 247)"/>
<circle cx="390.5" cy="379.3" r="2.35" fill="rgb(41, 135, 248)"/>
<circle cx="336.8" cy="379.3" r="2.35" fill="rgb(195, 3, 149)"/>
<circle cx="393.5" cy="376.0" r="2.35" fill="rgb(41, 137, 250)"/>
<circle cx="332.9" cy="372.7" r="2.35" fill="rgb(176, 8, 162)"/>
<circle cx="364.9" cy="379.3" r="2.35" fill="rgb(116, 91, 217)"/>
<circle cx="360.6" cy="372.7" r="2.35" fill="rgb(107, 96, 221)"/>
<circle cx="357.3" cy="376.0" r="2.35" fill="rgb(141, 67, 195)"/>
<circle cx="272.5" cy="376.0" r="2.35" fill="rgb(237, 3, 81)"/>
<circle cx="355.7" cy="376.0" r="2.35" fill="rgb(140, 68, 196)"/>
<circle cx="367.2" cy="372.7" r="2.35" fill="rgb(108, 96, 221)"/>
<circle cx="369.3" cy="382.6" r="2.35" fill="rgb(92, 103, 228)"/>
<circle cx="349.8" cy="372.7" r="2.35" fill="rgb(137, 71, 199)"/>
<circle cx="327.5" cy="376.0" r="2.35" fill="rgb(188, 3, 154)"/>
<circle cx="369.0" cy="379.3" r="2.35" fill="rgb(95, 102, 227)"/>
<circle cx="381.2" cy="369.4" r="2.35" fill="rgb(40, 126, 244)"/>
<circle cx="373.5" cy="366.1" r="2.35" fill="rgb(63, 111, 234)"/>
<circle cx="357.3" cy="382.6" r="2.35" fill="rgb(123, 85, 212)"/>
<circle cx="367.9" cy="376.0" r="2.35" fill="rgb(82, 107, 231)"/>
<circle cx="351.0" cy="369.4" r="2.35" fill="rgb(143, 63, 192)"/>
<circle cx="389.2" cy="372.7" r="2.35" fill="rgb(41, 130, 247)"/>
<circle cx="374.2" cy="382.6" r="2.35" fill="rgb(39, 115, 237)"/>
<circle cx="353.5" cy="385.9" r="2.35" fill="rgb(130, 80, 207)"/>
<circle cx="342.2" cy="379.3" r="2.35" fill="rgb(152, 46, 178)"/>
<circle cx="394.8" cy="382.6" r="2.35" fill="rgb(41, 129, 246)"/>
<circle cx="345.7" cy="376.0" r="2.35" fill="rgb(149, 53, 184)"/>
<circle cx="358.8" cy="369.4" r="2.35" fill="rgb(118, 89, 215)"/>
<circle cx="334.8" cy="376.0" r="2.35" fill="rgb(176, 10, 162)"/>
<circle cx="375.8" cy="372.7" r="2.35" fill="rgb(53, 112, 235)"/>
<circle cx="348.1" cy="376.0" r="2.35" fill="rgb(145, 60, 190)"/>
<circle cx="335.0" cy="379.3" r="2.35" fill="rgb(184, 3, 157)"/>
<circle cx="362.0" cy="369.4" r="2.35" fill="rgb(119, 89, 215)"/>
<circle cx="370.4" cy="372.7" r="2.35" fill="rgb(41, 114, 237)"/>
<circle cx="384.9" cy="376.0" r="2.35" fill="rgb(41, 129, 246)"/>
<circle cx="343.8" cy="372.7" r="2.35" fill="rgb(152, 48, 179)"/>
<circle cx="387.6" cy="372.7" r="2.35" fill="rgb(41, 133, 248)"/>
<circle cx="363.7" cy="379.3" r="2.35" fill="rgb(118, 90, 216)"/>
<circle cx="342.0" cy="372.7" r="2.35" fill="rgb(161, 32, 170)"/>
<circle cx="351.8" cy="369.4" r="2.35" fill="rgb(134, 75, 203)"/>
<circle cx="378.3" cy="376.0" r="2.35" fill="rgb(40, 123, 243)"/>
<circle cx="340.8" cy="372.7" r="2.35" fill="rgb(165, 29, 169)"/>
<circle cx="290.4" cy="376.0" r="2.35" fill="rgb(237, 3, 81)"/>
<circle cx="348.0" cy="382.6" r="2.35" fill="rgb(136, 72, 200)"/>
<circle cx="324.7" cy="376.0" r="2.35" fill="rgb(184, 3, 157)"/>
<circle cx="385.5" cy="379.3" r="2.35" fill="rgb(40, 128, 245)"/>
<circle cx="307.8" cy="376.0" r="2.35" fill="rgb(218, 3, 124)"/>
<circle cx="317.0" cy="372.7" r="2.35" fill="rgb(207, 3, 138)"/>
<circle cx="342.4" cy="376.0" r="2.35" fill="rgb(164, 30, 169)"/>
<circle cx="280.2" cy="376.0" r="2.35" fill="rgb(237, 3, 82)"/>
<circle cx="381.8" cy="382.6" r="2.35" fill="rgb(41, 128, 246)"/>
<circle cx="380.3" cy="385.9" r="2.35" fill="rgb(40, 124, 243)"/>
<circle cx="332.0" cy="376.0" r="2.35" fill="rgb(190, 3, 153)"/>
<circle cx="319.0" cy="379.3" r="2.35" fill="rgb(205, 3, 140)"/>
<circle cx="375.5" cy="369.4" r="2.35" fill="rgb(39, 117, 239)"/>
<circle cx="353.3" cy="379.3" r="2.35" fill="rgb(129, 80, 207)"/>
<circle cx="394.0" cy="369.4" r="2.35" fill="rgb(41, 136, 249)"/>
<circle cx="380.5" cy="372.7" r="2.35" fill="rgb(41, 130, 247)"/>
<circle cx="362.2" cy="372.7" r="2.35" fill="rgb(110, 95, 221)"/>
<circle cx="348.5" cy="379.3" r="2.35" fill="rgb(149, 54, 185)"/>
<circle cx="356.0" cy="372.7" r="2.35" fill="rgb(132, 78, 205)"/>
<circle cx="351.6" cy="372.7" r="2.35" fill="rgb(146, 59, 189)"/>
<circle cx="326.2" cy="379.3" r="2.35" fill="rgb(199, 3, 145)"/>
<circle cx="385.8" cy="376.0" r="2.35" fill="rgb(41, 128, 246)"/>
<circle cx="359.4" cy="382.6" r="2.35" fill="rgb(122, 87, 214)"/>
<circle cx="373.7" cy="385.9" r="2.35" fill="rgb(39, 114, 237)"/>
<circle cx="374.5" cy="379.3" r="2.35" fill="rgb(39, 117, 238)"/>
<circle cx="347.1" cy="372.7" r="2.35" fill="rgb(161, 33, 170)"/>
<circle cx="372.1" cy="376.0" r="2.35" fill="rgb(76, 109, 233)"/>
<circle cx="360.0" cy="385.9" r="2.35" fill="rgb(117, 90, 216)"/>
<circle cx="364.8" cy="413.0" r="2.35" fill="rgb(137, 71, 199)"/>
<circle cx="353.6" cy="409.7" r="2.35" fill="rgb(158, 36, 172)"/>
<circle cx="328.2" cy="413.0" r="2.35" fill="rgb(215, 3, 128)"/>
<circle cx="374.2" cy="413.0" r="2.35" fill="rgb(95, 102, 227)"/>
<circle cx="348.4" cy="403.1" r="2.35" fill="rgb(172, 18, 165)"/>
<circle cx="356.6" cy="406.4" r="2.35" fill="rgb(155, 40, 174)"/>
<circle cx="406.5" cy="409.7" r="2.35" fill="rgb(41, 136, 249)"/>
<circle cx="290.9" cy="409.7" r="2.35" fill="rgb(237, 3, 88)"/>
<circle cx="402.4" cy="409.7" r="2.35" fill="rgb(41, 132, 247)"/>
<circle cx="340.1" cy="409.7" r="2.35" fill="rgb(195, 3, 150)"/>
<circle cx="360.7" cy="419.6" r="2.35" fill="rgb(155, 39, 173)"/>
<circle cx="409.7" cy="409.7" r="2.35" fill="rgb(41, 132, 247)"/>
<circle cx="322.1" cy="409.7" r="2.35" fill="rgb(227, 3, 112)"/>
<circle cx="417.2" cy="409.7" r="2.35" fill="rgb(41, 138, 250)"/>
<circle cx="411.2" cy="409.7" r="2.35" fill="rgb(41, 142, 251)"/>
<circle cx="385.1" cy="409.7" r="2.35" fill="rgb(47, 113, 236)"/>
<circle cx="342.6" cy="409.7" r="2.35" fill="rgb(176, 8, 162)"/>
<circle cx="353.2" cy="406.4" r="2.35" fill="rgb(159, 34, 171)"/>
<circle cx="348.7" cy="399.8" r="2.35" fill="rgb(179, 3, 160)"/>
<circle cx="394.7" cy="409.7" r="2.35" fill="rgb(40, 119, 240)"/>
<circle cx="418.8" cy="406.4" r="2.35" fill="rgb(41, 135, 248)"/>
<circle cx="308.9" cy="409.7" r="2.35" fill="rgb(235, 3, 97)"/>
<circle cx="311.7" cy="406.4" r="2.35" fill="rgb(235, 3, 95)"/>
<circle cx="348.4" cy="416.3" r="2.35" fill="rgb(171, 21, 166)"/>
<circle cx="318.6" cy="409.7" r="2.35" fill="rgb(219, 3, 123)"/>
<circle cx="361.3" cy="413.0" r="2.35" fill="rgb(147, 58, 188)"/>
<circle cx="372.6" cy="406.4" r="2.35" fill="rgb(125, 83, 210)"/>
<circle cx="381.4" cy="409.7" r="2.35" fill="rgb(56, 112, 235)"/>
<circle cx="337.1" cy="413.0" r="2.35" fill="rgb(195, 3, 150)"/>
<circle cx="332.6" cy="403.1" r="2.35" fill="rgb(193, 3, 151)"/>
<circle cx="312.9" cy="409.7" r="2.35" fill="rgb(230, 3, 106)"/>
<circle cx="303.2" cy="409.7" r="2.35" fill="rgb(237, 3, 81)"/>
<circle cx="385.8" cy="403.1" r="2.35" fill="rgb(39, 115, 238)"/>
<circle cx="352.6" cy="406.4" r="2.35" fill="rgb(172, 18, 165)"/>
<circle cx="336.9" cy="409.7" r="2.35" fill="rgb(200, 3, 145)"/>
<circle cx="374.1" cy="416.3" r="2.35" fill="rgb(116, 92, 218)"/>
<circle cx="377.9" cy="409.7" r="2.35" fill="rgb(88, 105, 230)"/>
<circle cx="299.9" cy="409.7" r="2.35" fill="rgb(237, 3, 81)"/>
<circle cx="336.7" cy="403.1" r="2.35" fill="rgb(202, 3, 143)"/>
<circle cx="349.9" cy="409.7" r="2.35" fill="rgb(158, 36, 172)"/>
<circle cx="371.8" cy="409.7" r="2.35" fill="rgb(123, 85, 212)"/>
<circle cx="388.0" cy="406.4" r="2.35" fill="rgb(75, 109, 233)"/>
<circle cx="308.6" cy="406.4" r="2.35" fill="rgb(233, 3, 101)"/>
<circle cx="392.0" cy="409.7" r="2.35" fill="rgb(39, 118, 239)"/>
<circle cx="332.2" cy="409.7" r="2.35" fill="rgb(197, 3, 147)"/>
<circle cx="364.3" cy="416.3" r="2.35" fill="rgb(134, 75, 202)"/>
<circle cx="346.1" cy="413.0" r="2.35" fill="rgb(183, 3, 158)"/>
<circle cx="388.3" cy="409.7" r="2.35" fill="rgb(40, 121, 241)"/>
<circle cx="352.5" cy="409.7" r="2.35" fill="rgb(152, 45, 178)"/>
<circle cx="384.3" cy="399.8" r="2.35" fill="rgb(39, 117, 238)"/>
<circle cx="384.4" cy="406.4" r="2.35" fill="rgb(62, 112, 235)"/>
<circle cx="353.2" cy="413.0" r="2.35" fill="rgb(151, 49, 180)"/>
<circle cx="327.0" cy="416.3" r="2.35" fill="rgb(218, 3, 125)"/>
<circle cx="346.8" cy="416.3" r="2.35" fill="rgb(180, 3, 160)"/>
<circle cx="325.8" cy="409.7" r="2.35" fill="rgb(227, 3, 112)"/>
<circle cx="328.3" cy="409.7" r="2.35" fill="rgb(213, 3, 130)"/>
<circle cx="340.8" cy="413.0" r="2.35" fill="rgb(200, 3, 144)"/>
<circle cx="370.6" cy="403.1" r="2.35" fill="rgb(133, 76, 204)"/>
<circle cx="334.5" cy="406.4" r="2.35" fill="rgb(201, 3, 144)"/>
<circle cx="360.2" cy="406.4" r="2.35" fill="rgb(150, 51, 182)"/>
<circle cx="310.1" cy="413.0" r="2.35" fill="rgb(237, 3, 89)"/>
<circle cx="294.0" cy="409.7" r="2.35" fill="rgb(237, 3, 81)"/>
<circle cx="342.7" cy="416.3" r="2.35" fill="rgb(191, 3, 152)"/>
<circle cx="357.7" cy="403.1" r="2.35" fill="rgb(151, 49, 180)"/>
<circle cx="323.6" cy="406.4" r="2.35" fill="rgb(226, 3, 113)"/>
<circle cx="366.4" cy="413.0" r="2.35" fill="rgb(138, 71, 199)"/>
<circle cx="367.3" cy="409.7" r="2.35" fill="rgb(135, 73, 200)"/>
<circle cx="301.5" cy="406.4" r="2.35" fill="rgb(237, 3, 82)"/>
<circle cx="369.5" cy="409.7" r="2.35" fill="rgb(142, 64, 193)"/>
<circle cx="284.3" cy="409.7" r="2.35" fill="rgb(237, 3, 89)"/>
<circle cx="357.4" cy="416.3" r="2.35" fill="rgb(152, 48, 179)"/>
<circle cx="401.9" cy="409.7" r="2.35" fill="rgb(41, 136, 249)"/>
<circle cx="347.0" cy="409.7" r="2.35" fill="rgb(182, 3, 159)"/>
<circle cx="343.7" cy="413.0" r="2.35" fill="rgb(191, 3, 152)"/>
<circle cx="374.1" cy="403.1" r="2.35" fill="rgb(132, 77, 205)"/>
<circle cx="380.7" cy="413.0" r="2.35" fill="rgb(92, 103, 228)"/>
<circle cx="391.3" cy="409.7" r="2.35" fill="rgb(40, 119, 240)"/>
<circle cx="348.7" cy="406.4" r="2.35" fill="rgb(177, 7, 162)"/>
<circle cx="356.4" cy="413.0" r="2.35" fill="rgb(154, 41, 175)"/>
<circle cx="344.7" cy="406.4" r="2.35" fill="rgb(183, 3, 158)"/>
<circle cx="373.8" cy="406.4" r="2.35" fill="rgb(124, 84, 211)"/>
<circle cx="361.0" cy="416.3" r="2.35" fill="rgb(147, 56, 186)"/>
<circle cx="363.4" cy="406.4" r="2.35" fill="rgb(141, 66, 194)"/>
<circle cx="328.4" cy="406.4" r="2.35" fill="rgb(218, 3, 125)"/>
<circle cx="383.9" cy="413.0" r="2.35" fill="rgb(39, 116, 238)"/>
<circle cx="399.9" cy="406.4" r="2.35" fill="rgb(41, 131, 247)"/>
<circle cx="379.9" cy="409.7" r="2.35" fill="rgb(83, 107, 231)"/>
<circle cx="314.1" cy="409.7" r="2.35" fill="rgb(230, 3, 105)"/>
<circle cx="361.4" cy="403.1" r="2.35" fill="rgb(141, 66, 194)"/>
<circle cx="348.0" cy="413.0" r="2.35" fill="rgb(177, 7, 162)"/>
<circle cx="360.9" cy="406.4" r="2.35" fill="rgb(152, 46, 178)"/>
<circle cx="358.1" cy="409.7" r="2.35" fill="rgb(144, 61, 190)"/>
<circle cx="362.3" cy="409.7" r="2.35" fill="rgb(139, 69, 197)"/>
<circle cx="364.9" cy="409.7" r="2.35" fill="rgb(141, 67, 195)"/>
<circle cx="337.2" cy="409.7" r="2.35" fill="rgb(206, 3, 139)"/>
<circle cx="374.0" cy="409.7" r="2.35" fill="rgb(128, 81, 208)"/>
<circle cx="359.5" cy="413.0" r="2.35" fill="rgb(151, 49, 180)"/>
<circle cx="376.7" cy="406.4" r="2.35" fill="rgb(113, 93, 219)"/>
<circle cx="347.0" cy="406.4" r="2.35" fill="rgb(172, 17, 165)"/>
<circle cx="414.6" cy="409.7" r="2.35" fill="rgb(41, 136, 249)"/>
<circle cx="269.4" cy="409.7" r="2.35" fill="rgb(237, 3, 81)"/>
<circle cx="372.7" cy="416.3" r="2.35" fill="rgb(126, 83, 210)"/>
<circle cx="397.7" cy="409.7" r="2.35" fill="rgb(41, 130, 247)"/>
<circle cx="386.2" cy="416.3" r="2.35" fill="rgb(40, 121, 241)"/>
<circle cx="355.4" cy="409.7" r="2.35" fill="rgb(151, 49, 180)"/>
<circle cx="334.7" cy="413.0" r="2.35" fill="rgb(200, 3, 144)"/>
<circle cx="369.8" cy="406.4" r="2.35" fill="rgb(121, 86, 213)"/>
<circle cx="400.8" cy="413.0" r="2.35" fill="rgb(41, 129, 246)"/>
<circle cx="417.9" cy="409.7" r="2.35" fill="rgb(41, 142, 251)"/>
<circle cx="346.0" cy="403.1" r="2.35" fill="rgb(176, 10, 162)"/>
<circle cx="372.5" cy="413.0" r="2.35" fill="rgb(127, 82, 209)"/>
<circle cx="369.2" cy="413.0" r="2.35" fill="rgb(136, 72, 199)"/>
<circle cx="388.4" cy="413.0" r="2.35" fill="rgb(39, 114, 237)"/>
<circle cx="331.9" cy="406.4" r="2.35" fill="rgb(214, 3, 129)"/>
<circle cx="333.3" cy="413.0" r="2.35" fill="rgb(202, 3, 143)"/>
<circle cx="364.8" cy="446.8" r="2.35" fill="rgb(199, 3, 145)"/>
<circle cx="337.2" cy="446.8" r="2.35" fill="rgb(158, 35, 171)"/>
<circle cx="259.5" cy="443.5" r="2.35" fill="rgb(41, 138, 250)"/>
<circle cx="383.7" cy="446.8" r="2.35" fill="rgb(223, 3, 118)"/>
<circle cx="377.2" cy="443.5" r="2.35" fill="rgb(214, 3, 129)"/>
<circle cx="382.6" cy="443.5" r="2.35" fill="rgb(220, 3, 122)"/>
<circle cx="389.1" cy="446.8" r="2.35" fill="rgb(227, 3, 112)"/>
<circle cx="320.7" cy="443.5" r="2.35" fill="rgb(94, 103, 228)"/>
<circle cx="404.3" cy="443.5" r="2.35" fill="rgb(237, 3, 81)"/>
<circle cx="305.0" cy="443.5" r="2.35" fill="rgb(40, 124, 243)"/>
<circle cx="330.3" cy="446.8" r="2.35" fill="rgb(135, 74, 201)"/>
<circle cx="391.6" cy="440.2" r="2.35" fill="rgb(227, 3, 112)"/>
<circle cx="350.6" cy="443.5" r="2.35" fill="rgb(175, 11, 163)"/>
<circle cx="353.1" cy="440.2" r="2.35" fill="rgb(195, 3, 150)"/>
<circle cx="339.2" cy="446.8" r="2.35" fill="rgb(149, 54, 185)"/>
<circle cx="379.6" cy="443.5" r="2.35" fill="rgb(216, 3, 127)"/>
<circle cx="396.0" cy="440.2" r="2.35" fill="rgb(234, 3, 99)"/>
<circle cx="388.3" cy="446.8" r="2.35" fill="rgb(231, 3, 103)"/>
<circle cx="366.0" cy="446.8" r="2.35" fill="rgb(192, 3, 151)"/>
<circle cx="324.4" cy="440.2" r="2.35" fill="rgb(123, 85, 212)"/>
<circle cx="347.5" cy="446.8" r="2.35" fill="rgb(166, 28, 168)"/>
<circle cx="387.8" cy="440.2" r="2.35" fill="rgb(227, 3, 112)"/>
<circle cx="246.2" cy="443.5" r="2.35" fill="rgb(41, 142, 251)"/>
<circle cx="377.3" cy="436.9" r="2.35" fill="rgb(218, 3, 125)"/>
<circle cx="354.1" cy="446.8" r="2.35" fill="rgb(179, 3, 160)"/>
<circle cx="342.7" cy="443.5" r="2.35" fill="rgb(157, 37, 172)"/>
<circle cx="356.6" cy="440.2" r="2.35" fill="rgb(195, 3, 150)"/>
<circle cx="341.7" cy="446.8" r="2.35" fill="rgb(163, 31, 170)"/>
<circle cx="327.1" cy="446.8" r="2.35" fill="rgb(143, 63, 192)"/>
<circle cx="357.6" cy="443.5" r="2.35" fill="rgb(191, 3, 152)"/>
<circle cx="334.6" cy="443.5" r="2.35" fill="rgb(146, 58, 188)"/>
<circle cx="347.1" cy="443.5" r="2.35" fill="rgb(171, 19, 165)"/>
<circle cx="301.9" cy="443.5" r="2.35" fill="rgb(40, 122, 242)"/>
<circle cx="365.0" cy="440.2" r="2.35" fill="rgb(206, 3, 139)"/>
<circle cx="372.7" cy="446.8" r="2.35" fill="rgb(207, 3, 138)"/>
<circle cx="286.6" cy="440.2" r="2.35" fill="rgb(41, 137, 250)"/>
<circle cx="351.0" cy="446.8" r="2.35" fill="rgb(174, 14, 163)"/>
<circle cx="388.9" cy="443.5" r="2.35" fill="rgb(231, 3, 103)"/>
<circle cx="295.8" cy="443.5" r="2.35" fill="rgb(41, 141, 250)"/>
<circle cx="366.8" cy="436.9" r="2.35" fill="rgb(198, 3, 146)"/>
<circle cx="344.3" cy="436.9" r="2.35" fill="rgb(168, 24, 167)"/>
<circle cx="344.4" cy="440.2" r="2.35" fill="rgb(175, 11, 163)"/>
<circle cx="344.3" cy="440.2" r="2.35" fill="rgb(171, 19, 165)"/>
<circle cx="397.8" cy="443.5" r="2.35" fill="rgb(237, 3, 87)"/>
<circle cx="274.4" cy="443.5" r="2.35" fill="rgb(41, 139, 250)"/>
<circle cx="368.4" cy="440.2" r="2.35" fill="rgb(189, 3, 154)"/>
<circle cx="325.1" cy="443.5" r="2.35" fill="rgb(122, 86, 213)"/>
<circle cx="380.3" cy="450.1" r="2.35" fill="rgb(218, 3, 124)"/>
<circle cx="345.4" cy="450.1" r="2.35" fill="rgb(171, 19, 165)"/>
<circle cx="374.6" cy="446.8" r="2.35" fill="rgb(219, 3, 123)"/>
<circle cx="378.9" cy="436.9" r="2.35" fill="rgb(221, 3, 121)"/>
<circle cx="356.5" cy="443.5" r="2.35" fill="rgb(174, 13, 163)"/>
<circle cx="335.8" cy="446.8" r="2.35" fill="rgb(149, 54, 185)"/>
<circle cx="282.6" cy="443.5" r="2.35" fill="rgb(41, 140, 250)"/>
<circle cx="341.4" cy="436.9" r="2.35" fill="rgb(165, 29, 169)"/>
<circle cx="362.5" cy="440.2" r="2.35" fill="rgb(195, 3, 149)"/>
<circle cx="392.0" cy="446.8" r="2.35" fill="rgb(225, 3, 115)"/>
<circle cx="364.8" cy="436.9" r="2.35" fill="rgb(193, 3, 151)"/>
<circle cx="381.9" cy="440.2" r="2.35" fill="rgb(220, 3, 121)"/>
<circle cx="369.0" cy="450.1" r="2.35" fill="rgb(191, 3, 152)"/>
<circle cx="325.0" cy="446.8" r="2.35" fill="rgb(121, 86, 213)"/>
<circle cx="360.0" cy="443.5" r="2.35" fill="rgb(190, 3, 153)"/>
<circle cx="339.2" cy="443.5" r="2.35" fill="rgb(162, 32, 170)"/>
<circle cx="354.4" cy="443.5" r="2.35" fill="rgb(183, 3, 158)"/>
<circle cx="364.0" cy="443.5" r="2.35" fill="rgb(194, 3, 150)"/>
<circle cx="380.3" cy="446.8" r="2.35" fill="rgb(219, 3, 123)"/>
<circle cx="373.7" cy="440.2" r="2.35" fill="rgb(209, 3, 135)"/>
<circle cx="370.3" cy="446.8" r="2.35" fill="rgb(211, 3, 134)"/>
<circle cx="280.5" cy="440.2" r="2.35" fill="rgb(41, 142, 251)"/>
<circle cx="384.2" cy="443.5" r="2.35" fill="rgb(214, 3, 129)"/>
<circle cx="366.9" cy="440.2" r="2.35" fill="rgb(216, 3, 127)"/>
<circle cx="387.2" cy="450.1" r="2.35" fill="rgb(230, 3, 105)"/>
<circle cx="375.9" cy="446.8" r="2.35" fill="rgb(213, 3, 131)"/>
<circle cx="355.8" cy="446.8" r="2.35" fill="rgb(200, 3, 144)"/>
<circle cx="346.1" cy="436.9" r="2.35" fill="rgb(159, 34, 171)"/>
<circle cx="338.2" cy="443.5" r="2.35" fill="rgb(149, 54, 185)"/>
<circle cx="225.3" cy="443.5" r="2.35" fill="rgb(41, 142, 251)"/>
<circle cx="322.2" cy="443.5" r="2.35" fill="rgb(119, 89, 215)"/>
<circle cx="372.2" cy="440.2" r="2.35" fill="rgb(205, 3, 140)"/>
<circle cx="344.3" cy="450.1" r="2.35" fill="rgb(171, 20, 166)"/>
<circle cx="344.4" cy="443.5" r="2.35" fill="rgb(162, 32, 170)"/>
<circle cx="345.2" cy="446.8" r="2.35" fill="rgb(176, 9, 162)"/>
<circle cx="343.7" cy="433.6" r="2.35" fill="rgb(167, 26, 167)"/>
<circle cx="368.0" cy="443.5" r="2.35" fill="rgb(193, 3, 151)"/>
<circle cx="373.3" cy="443.5" r="2.35" fill="rgb(209, 3, 136)"/>
<circle cx="347.9" cy="440.2" r="2.35" fill="rgb(163, 31, 170)"/>
<circle cx="308.1" cy="443.5" r="2.35" fill="rgb(40, 124, 243)"/>
<circle cx="331.5" cy="443.5" r="2.35" fill="rgb(138, 70, 198)"/>
<circle cx="341.5" cy="440.2" r="2.35" fill="rgb(176, 10, 162)"/>
<circle cx="280.5" cy="443.5" r="2.35" fill="rgb(41, 140, 250)"/>
<circle cx="379.8" cy="440.2" r="2.35" fill="rgb(211, 3, 134)"/>
<circle cx="396.1" cy="443.5" r="2.35" fill="rgb(235, 3, 95)"/>
<circle cx="327.8" cy="443.5" r="2.35" fill="rgb(121, 87, 214)"/>
<circle cx="329.9" cy="443.5" r="2.35" fill="rgb(145, 60, 190)"/>
<circle cx="340.5" cy="450.1" r="2.35" fill="rgb(163, 31, 170)"/>
<circle cx="365.3" cy="443.5" r="2.35" fill="rgb(209, 3, 136)"/>
<circle cx="347.2" cy="450.1" r="2.35" fill="rgb(167, 26, 167)"/>
<circle cx="401.3" cy="443.5" r="2.35" fill="rgb(237, 3, 90)"/>
<circle cx="313.2" cy="443.5" r="2.35" fill="rgb(68, 111, 234)"/>
<circle cx="376.9" cy="440.2" r="2.35" fill="rgb(207, 3, 138)"/>
<circle cx="392.1" cy="443.5" r="2.35" fill="rgb(228, 3, 110)"/>
<circle cx="271.3" cy="443.5" r="2.35" fill="rgb(41, 142, 251)"/>
<circle cx="336.7" cy="440.2" r="2.35" fill="rgb(149, 53, 184)"/>
<circle cx="387.2" cy="443.5" r="2.35" fill="rgb(221, 3, 120)"/>
<circle cx="385.2" cy="440.2" r="2.35" fill="rgb(217, 3, 126)"/>
<circle cx="407.4" cy="443.5" r="2.35" fill="rgb(237, 3, 81)"/>
<circle cx="326.2" cy="440.2" r="2.35" fill="rgb(121, 86, 213)"/>
<circle cx="348.8" cy="436.9" r="2.35" fill="rgb(172, 18, 165)"/>
<circle cx="370.5" cy="443.5" r="2.35" fill="rgb(209, 3, 136)"/>
<circle cx="397.2" cy="440.2" r="2.35" fill="rgb(237, 3, 90)"/>
<circle cx="298.8" cy="443.5" r="2.35" fill="rgb(41, 142, 251)"/>
<circle cx="394.9" cy="446.8" r="2.35" fill="rgb(232, 3, 102)"/>
<circle cx="288.7" cy="443.5" r="2.35" fill="rgb(41, 132, 247)"/>
<circle cx="325.5" cy="477.2" r="2.35" fill="rgb(237, 3, 81)"/>
<circle cx="340.8" cy="480.5" r="2.35" fill="rgb(224, 3, 115)"/>
<circle cx="346.6" cy="483.8" r="2.35" fill="rgb(205, 3, 140)"/>
<circle cx="349.8" cy="483.8" r="2.35" fill="rgb(199, 3, 145)"/>
<circle cx="368.3" cy="470.6" r="2.35" fill="rgb(40, 122, 242)"/>
<circle cx="351.2" cy="477.2" r="2.35" fill="rgb(191, 3, 152)"/>
<circle cx="352.4" cy="470.6" r="2.35" fill="rgb(170, 22, 166)"/>
<circle cx="344.4" cy="477.2" r="2.35" fill="rgb(218, 3, 125)"/>
<circle cx="345.8" cy="480.5" r="2.35" fill="rgb(206, 3, 139)"/>
<circle cx="370.8" cy="473.9" r="2.35" fill="rgb(41, 130, 247)"/>
<circle cx="359.4" cy="480.5" r="2.35" fill="rgb(124, 84, 211)"/>
<circle cx="353.5" cy="477.2" r="2.35" fill="rgb(168, 25, 167)"/>
<circle cx="359.9" cy="477.2" r="2.35" fill="rgb(138, 70, 198)"/>
<circle cx="377.5" cy="473.9" r="2.35" fill="rgb(41, 142, 251)"/>
<circle cx="376.7" cy="477.2" r="2.35" fill="rgb(40, 128, 245)"/>
<circle cx="359.4" cy="477.2" r="2.35" fill="rgb(137, 71, 199)"/>
<circle cx="343.4" cy="487.1" r="2.35" fill="rgb(212, 3, 132)"/>
<circle cx="353.6" cy="473.9" r="2.35" fill="rgb(182, 3, 159)"/>
<circle cx="344.7" cy="470.6" r="2.35" fill="rgb(211, 3, 133)"/>
<circle cx="349.6" cy="473.9" r="2.35" fill="rgb(203, 3, 142)"/>
<circle cx="356.1" cy="480.5" r="2.35" fill="rgb(135, 73, 200)"/>
<circle cx="337.6" cy="480.5" r="2.35" fill="rgb(237, 3, 91)"/>
<circle cx="370.2" cy="483.8" r="2.35" fill="rgb(40, 123, 243)"/>
<circle cx="364.4" cy="473.9" r="2.35" fill="rgb(103, 99, 224)"/>
<circle cx="370.2" cy="483.8" r="2.35" fill="rgb(40, 122, 242)"/>
<circle cx="331.1" cy="477.2" r="2.35" fill="rgb(234, 3, 98)"/>
<circle cx="341.5" cy="473.9" r="2.35" fill="rgb(226, 3, 113)"/>
<circle cx="348.4" cy="480.5" r="2.35" fill="rgb(202, 3, 143)"/>
<circle cx="329.2" cy="480.5" r="2.35" fill="rgb(237, 3, 85)"/>
<circle cx="346.0" cy="467.3" r="2.35" fill="rgb(206, 3, 139)"/>
<circle cx="341.8" cy="477.2" r="2.35" fill="rgb(216, 3, 127)"/>
<circle cx="378.6" cy="477.2" r="2.35" fill="rgb(41, 136, 249)"/>
<circle cx="370.8" cy="480.5" r="2.35" fill="rgb(40, 122, 242)"/>
<circle cx="376.3" cy="483.8" r="2.35" fill="rgb(41, 135, 248)"/>
<circle cx="366.2" cy="477.2" r="2.35" fill="rgb(77, 109, 233)"/>
<circle cx="366.3" cy="480.5" r="2.35" fill="rgb(68, 111, 234)"/>
<circle cx="347.2" cy="473.9" r="2.35" fill="rgb(208, 3, 137)"/>
<circle cx="348.4" cy="483.8" r="2.35" fill="rgb(207, 3, 138)"/>
<circle cx="370.3" cy="477.2" r="2.35" fill="rgb(40, 126, 244)"/>
<circle cx="366.5" cy="467.3" r="2.35" fill="rgb(47, 113, 236)"/>
<circle cx="367.8" cy="480.5" r="2.35" fill="rgb(98, 102, 227)"/>
<circle cx="335.5" cy="480.5" r="2.35" fill="rgb(229, 3, 109)"/>
<circle cx="362.6" cy="480.5" r="2.35" fill="rgb(121, 87, 214)"/>
<circle cx="331.3" cy="477.2" r="2.35" fill="rgb(236, 3, 91)"/>
<circle cx="350.0" cy="480.5" r="2.35" fill="rgb(200, 3, 144)"/>
<circle cx="359.5" cy="483.8" r="2.35" fill="rgb(135, 73, 200)"/>
<circle cx="367.0" cy="473.9" r="2.35" fill="rgb(40, 120, 240)"/>
<circle cx="363.9" cy="477.2" r="2.35" fill="rgb(92, 103, 228)"/>
<circle cx="329.6" cy="473.9" r="2.35" fill="rgb(237, 3, 88)"/>
<circle cx="347.0" cy="477.2" r="2.35" fill="rgb(204, 3, 140)"/>
<circle cx="341.0" cy="477.2" r="2.35" fill="rgb(220, 3, 121)"/>
<circle cx="358.5" cy="467.3" r="2.35" fill="rgb(138, 70, 198)"/>
<circle cx="352.2" cy="480.5" r="2.35" fill="rgb(165, 29, 169)"/>
<circle cx="344.6" cy="473.9" r="2.35" fill="rgb(206, 3, 139)"/>
<circle cx="338.8" cy="477.2" r="2.35" fill="rgb(225, 3, 114)"/>
<circle cx="374.3" cy="477.2" r="2.35" fill="rgb(41, 136, 249)"/>
<circle cx="358.6" cy="470.6" r="2.35" fill="rgb(140, 68, 196)"/>
<circle cx="367.3" cy="470.6" r="2.35" fill="rgb(40, 119, 240)"/>
<circle cx="359.6" cy="473.9" r="2.35" fill="rgb(146, 59, 189)"/>
<circle cx="335.8" cy="473.9" r="2.35" fill="rgb(227, 3, 111)"/>
<circle cx="342.6" cy="483.8" r="2.35" fill="rgb(223, 3, 117)"/>
<circle cx="341.9" cy="473.9" r="2.35" fill="rgb(224, 3, 116)"/>
<circle cx="369.3" cy="473.9" r="2.35" fill="rgb(52, 113, 236)"/>
<circle cx="343.1" cy="470.6" r="2.35" fill="rgb(224, 3, 115)"/>
<circle cx="352.9" cy="483.8" r="2.35" fill="rgb(162, 32, 170)"/>
<circle cx="335.6" cy="477.2" r="2.35" fill="rgb(235, 3, 96)"/>
<circle cx="376.6" cy="480.5" r="2.35" fill="rgb(41, 132, 247)"/>
<circle cx="369.1" cy="477.2" r="2.35" fill="rgb(39, 116, 238)"/>
<circle cx="356.0" cy="477.2" r="2.35" fill="rgb(155, 40, 174)"/>
<circle cx="343.4" cy="480.5" r="2.35" fill="rgb(214, 3, 129)"/>
<circle cx="367.0" cy="483.8" r="2.35" fill="rgb(92, 103, 228)"/>
</g>
<line x1="123" y1="512.4" x2="561" y2="512.4" stroke="#333" stroke-width="1.1"/>
<line x1="145.2" y1="512" x2="145.2" y2="516.5" stroke="#333" stroke-width="1"/>
<text transform="translate(131.64,528.70) scale(1.0313,1)" font-family="Liberation Sans" font-size="13.4" fill="#333">−2.0</text>
<line x1="197.6" y1="512" x2="197.6" y2="516.5" stroke="#333" stroke-width="1"/>
<text transform="translate(183.96,528.70) scale(1.0313,1)" font-family="Liberation Sans" font-size="13.4" fill="#333">−1.5</text>
<line x1="249.9" y1="512" x2="249.9" y2="516.5" stroke="#333" stroke-width="1"/>
<text transform="translate(236.27,528.70) scale(1.0313,1)" font-family="Liberation Sans" font-size="13.4" fill="#333">−1.0</text>
<line x1="302.2" y1="512" x2="302.2" y2="516.5" stroke="#333" stroke-width="1"/>
<text transform="translate(288.58,528.70) scale(1.0313,1)" font-family="Liberation Sans" font-size="13.4" fill="#333">−0.5</text>
<line x1="354.5" y1="512" x2="354.5" y2="516.5" stroke="#333" stroke-width="1"/>
<text transform="translate(345.20,528.70) scale(0.9987,1)" font-family="Liberation Sans" font-size="13.4" fill="#333">0.0</text>
<line x1="406.8" y1="512" x2="406.8" y2="516.5" stroke="#333" stroke-width="1"/>
<text transform="translate(397.51,528.70) scale(0.9987,1)" font-family="Liberation Sans" font-size="13.4" fill="#333">0.5</text>
<line x1="459.1" y1="512" x2="459.1" y2="516.5" stroke="#333" stroke-width="1"/>
<text transform="translate(449.83,528.70) scale(0.9987,1)" font-family="Liberation Sans" font-size="13.4" fill="#333">1.0</text>
<line x1="511.4" y1="512" x2="511.4" y2="516.5" stroke="#333" stroke-width="1"/>
<text transform="translate(502.14,528.70) scale(0.9987,1)" font-family="Liberation Sans" font-size="13.4" fill="#333">1.5</text>
<text transform="translate(205.00,547.40) scale(1.1473,1)" font-family="Liberation Sans" font-size="14.2" fill="#333">SHAP value (impact on model output)</text>
<text transform="translate(65.50,44.90) scale(1.0690,1)" font-family="Liberation Sans" font-size="14.5" fill="#333" stroke="#333" stroke-width="0.25">var1</text>
<text transform="translate(56.70,78.64) scale(1.1064,1)" font-family="Liberation Sans" font-size="14.5" fill="#333" stroke="#333" stroke-width="0.25">var11</text>
<text transform="translate(56.70,112.38) scale(1.0759,1)" font-family="Liberation Sans" font-size="14.5" fill="#333" stroke="#333" stroke-width="0.25">var13</text>
<text transform="translate(56.70,146.12) scale(1.0759,1)" font-family="Liberation Sans" font-size="14.5" fill="#333" stroke="#333" stroke-width="0.25">var14</text>
<text transform="translate(65.50,179.86) scale(1.0690,1)" font-family="Liberation Sans" font-size="14.5" fill="#333" stroke="#333" stroke-width="0.25">var5</text>
<text transform="translate(65.50,213.60) scale(1.0690,1)" font-family="Liberation Sans" font-size="14.5" fill="#333" stroke="#333" stroke-width="0.25">var4</text>
<text transform="translate(65.50,247.34) scale(1.0690,1)" font-family="Liberation Sans" font-size="14.5" fill="#333" stroke="#333" stroke-width="0.25">var2</text>
<text transform="translate(65.50,281.08) scale(1.0690,1)" font-family="Liberation Sans" font-size="14.5" fill="#333" stroke="#333" stroke-width="0.25">var9</text>
<text transform="translate(65.50,314.82) scale(1.0690,1)" font-family="Liberation Sans" font-size="14.5" fill="#333" stroke="#333" stroke-width="0.25">var7</text>
<text transform="translate(65.50,348.56) scale(1.0690,1)" font-family="Liberation Sans" font-size="14.5" fill="#333" stroke="#333" stroke-width="0.25">var8</text>
<text transform="translate(65.50,382.30) scale(1.0690,1)" font-family="Liberation Sans" font-size="14.5" fill="#333" stroke="#333" stroke-width="0.25">var3</text>
<text transform="translate(56.70,416.04) scale(1.0759,1)" font-family="Liberation Sans" font-size="14.5" fill="#333" stroke="#333" stroke-width="0.25">var10</text>
<text transform="translate(65.50,449.78) scale(1.0690,1)" font-family="Liberation Sans" font-size="14.5" fill="#333" stroke="#333" stroke-width="0.25">var6</text>
<text transform="translate(56.70,483.52) scale(1.0759,1)" font-family="Liberation Sans" font-size="14.5" fill="#333" stroke="#333" stroke-width="0.25">var12</text>
<rect x="587" y="5" width="7.3" height="507" fill="url(#cb)"/>
<text transform="translate(598.60,9.50) scale(0.9907,1)" font-family="Liberation Sans" font-size="13.0" fill="#333">High</text>
<text transform="translate(598.60,516.70) scale(0.9125,1)" font-family="Liberation Sans" font-size="13.0" fill="#333">Low</text>
<g transform="translate(635.1,303.3) rotate(-90)"><text transform="translate(0.00,0.00) scale(1.1012,1)" font-family="Liberation Sans" font-size="13.2" fill="#333">Feature value</text></g>
<line x1="0" y1="572.5" x2="685" y2="572.5" stroke="#111" stroke-width="1.3"/>
<line x1="0" y1="605.8" x2="685" y2="605.8" stroke="#333" stroke-width="1.6"/>
<line x1="0" y1="632.5" x2="685" y2="632.5" stroke="#111" stroke-width="1.3"/>
<line x1="0" y1="661.8" x2="685" y2="661.8" stroke="#444" stroke-width="1.6"/>
<line x1="0" y1="687.5" x2="685" y2="687.5" stroke="#111" stroke-width="1.3"/>
<line x1="0" y1="713.5" x2="685" y2="713.5" stroke="#111" stroke-width="1.3"/>
<line x1="0" y1="739.5" x2="685" y2="739.5" stroke="#111" stroke-width="1.3"/>
<line x1="0.5" y1="572" x2="0.5" y2="740" stroke="#111" stroke-width="1.3"/>
<line x1="184.5" y1="572" x2="184.5" y2="740" stroke="#111" stroke-width="1.3"/>
<line x1="495.5" y1="572" x2="495.5" y2="740" stroke="#111" stroke-width="1.3"/>
<line x1="684.5" y1="572" x2="684.5" y2="740" stroke="#111" stroke-width="1.3"/>
<text transform="translate(32.61,596.10) scale(1.0000,1)" font-family="Liberation Serif" font-size="21.5" fill="#000" font-weight="bold">Variable Key</text>
<text transform="translate(283.19,596.10) scale(1.0000,1)" font-family="Liberation Serif" font-size="21.5" fill="#000" font-weight="bold">Measure Set</text>
<text transform="translate(509.88,596.10) scale(1.0000,1)" font-family="Liberation Serif" font-size="21.5" fill="#000" font-weight="bold">Frequency Bands</text>
<text transform="translate(55.17,626.10) scale(1.0000,1)" font-family="Liberation Serif" font-size="21.5" fill="#000">2, 12, 13</text>
<text transform="translate(312.50,626.10) scale(1.0000,1)" font-family="Liberation Serif" font-size="21.5" fill="#000">Power</text>
<text transform="translate(540.44,626.10) scale(1.0000,1)" font-family="Liberation Serif" font-size="21.5" fill="#000">alpha, theta</text>
<text transform="translate(44.80,654.20) scale(1.0000,1)" font-family="Liberation Serif" font-size="21.5" fill="#000">1, 8, 10, 11</text>
<text transform="translate(209.81,654.20) scale(1.0000,1)" font-family="Liberation Serif" font-size="21.5" fill="#000">Cross hemispheric asymmetry</text>
<text transform="translate(517.19,654.20) scale(1.0000,1)" font-family="Liberation Serif" font-size="21.5" fill="#000">theta, alpha, beta</text>
<text transform="translate(76.67,681.60) scale(1.0000,1)" font-family="Liberation Serif" font-size="21.5" fill="#000">3, 9</text>
<text transform="translate(207.88,681.60) scale(1.0000,1)" font-family="Liberation Serif" font-size="21.5" fill="#000">Within hemisphere asymmetry</text>
<text transform="translate(540.44,681.60) scale(1.0000,1)" font-family="Liberation Serif" font-size="21.5" fill="#000">delta, alpha</text>
<text transform="translate(49.80,707.40) scale(1.0000,1)" font-family="Liberation Serif" font-size="21.5" fill="#000">4, 5, 6, 14</text>
<text transform="translate(266.00,707.40) scale(1.0000,1)" font-family="Liberation Serif" font-size="21.5" fill="#000">Phase/Coherence</text>
<text transform="translate(543.44,707.40) scale(1.0000,1)" font-family="Liberation Serif" font-size="21.5" fill="#000">alpha, beta</text>
<text transform="translate(87.42,733.50) scale(1.0000,1)" font-family="Liberation Serif" font-size="21.5" fill="#000">7</text>
<text transform="translate(289.25,733.50) scale(1.0000,1)" font-family="Liberation Serif" font-size="21.5" fill="#000">Complexity</text>
<text transform="translate(570.88,733.50) scale(1.0000,1)" font-family="Liberation Serif" font-size="21.5" fill="#000">total</text>
</svg></body></html>
